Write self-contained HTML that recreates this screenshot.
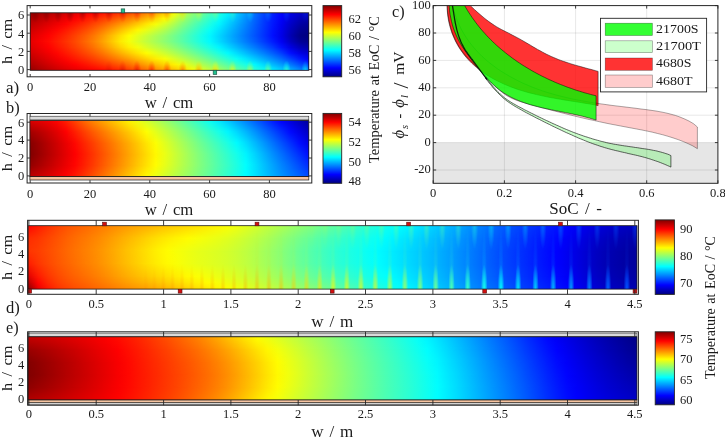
<!DOCTYPE html><html><head><meta charset="utf-8"><title>Figure</title><style>html,body{margin:0;padding:0;background:#fff}svg{display:block}</style></head><body><svg width="725" height="439" viewBox="0 0 725 439" font-family="Liberation Serif, serif" fill="#1a1a1a"><defs><linearGradient id="a0"><stop offset="0" stop-color="#940000"/><stop offset="0.03226" stop-color="#a30000"/><stop offset="0.06452" stop-color="#b30000"/><stop offset="0.09677" stop-color="#c20000"/><stop offset="0.129" stop-color="#d10000"/><stop offset="0.1613" stop-color="#e10000"/><stop offset="0.1935" stop-color="#f00000"/><stop offset="0.2258" stop-color="#ff0000"/><stop offset="0.2581" stop-color="#ff0e00"/><stop offset="0.2903" stop-color="#ff1d00"/><stop offset="0.3226" stop-color="#ff2e00"/><stop offset="0.3548" stop-color="#ff4500"/><stop offset="0.3871" stop-color="#ff6100"/><stop offset="0.4194" stop-color="#ff8000"/><stop offset="0.4516" stop-color="#ffa100"/><stop offset="0.4839" stop-color="#ffc800"/><stop offset="0.5161" stop-color="#feff01"/><stop offset="0.5484" stop-color="#c2ff3d"/><stop offset="0.5806" stop-color="#95ff6a"/><stop offset="0.6129" stop-color="#70ff8f"/><stop offset="0.6452" stop-color="#4bffb4"/><stop offset="0.6774" stop-color="#21ffde"/><stop offset="0.7097" stop-color="#00f5ff"/><stop offset="0.7419" stop-color="#00c9ff"/><stop offset="0.7742" stop-color="#009dff"/><stop offset="0.8065" stop-color="#006fff"/><stop offset="0.8387" stop-color="#0044ff"/><stop offset="0.871" stop-color="#0021ff"/><stop offset="0.9032" stop-color="#0003ff"/><stop offset="0.9355" stop-color="#0000e6"/><stop offset="0.9677" stop-color="#0000cf"/><stop offset="1" stop-color="#0000bc"/></linearGradient><linearGradient id="a1"><stop offset="0" stop-color="#aa0000"/><stop offset="0.03226" stop-color="#b90000"/><stop offset="0.06452" stop-color="#ca0000"/><stop offset="0.09677" stop-color="#da0000"/><stop offset="0.129" stop-color="#ec0000"/><stop offset="0.1613" stop-color="#fd0000"/><stop offset="0.1935" stop-color="#ff1100"/><stop offset="0.2258" stop-color="#ff2400"/><stop offset="0.2581" stop-color="#ff3700"/><stop offset="0.2903" stop-color="#ff4c00"/><stop offset="0.3226" stop-color="#ff6400"/><stop offset="0.3548" stop-color="#ff7e00"/><stop offset="0.3871" stop-color="#ff9a00"/><stop offset="0.4194" stop-color="#ffb800"/><stop offset="0.4516" stop-color="#ffd700"/><stop offset="0.4839" stop-color="#fffb00"/><stop offset="0.5161" stop-color="#d3ff2c"/><stop offset="0.5484" stop-color="#a0ff5f"/><stop offset="0.5806" stop-color="#78ff87"/><stop offset="0.6129" stop-color="#55ffaa"/><stop offset="0.6452" stop-color="#31ffce"/><stop offset="0.6774" stop-color="#0afff5"/><stop offset="0.7097" stop-color="#00e1ff"/><stop offset="0.7419" stop-color="#00b9ff"/><stop offset="0.7742" stop-color="#0090ff"/><stop offset="0.8065" stop-color="#0066ff"/><stop offset="0.8387" stop-color="#003eff"/><stop offset="0.871" stop-color="#001cff"/><stop offset="0.9032" stop-color="#0000f9"/><stop offset="0.9355" stop-color="#0000d6"/><stop offset="0.9677" stop-color="#0000b8"/><stop offset="1" stop-color="#0000a9"/></linearGradient><linearGradient id="am1g" gradientUnits="userSpaceOnUse" x1="0" y1="12.80" x2="0" y2="18.55"><stop offset="0" stop-color="#fff" stop-opacity="0"/><stop offset="1" stop-color="#fff"/></linearGradient><mask id="am1" maskUnits="userSpaceOnUse" x="30.20" y="12.80" width="278.60" height="57.50"><rect x="30.20" y="12.80" width="278.60" height="57.50" fill="url(#am1g)"/></mask><linearGradient id="a2"><stop offset="0" stop-color="#be0000"/><stop offset="0.03226" stop-color="#ce0000"/><stop offset="0.06452" stop-color="#df0000"/><stop offset="0.09677" stop-color="#f00000"/><stop offset="0.129" stop-color="#ff0400"/><stop offset="0.1613" stop-color="#ff1800"/><stop offset="0.1935" stop-color="#ff2d00"/><stop offset="0.2258" stop-color="#ff4400"/><stop offset="0.2581" stop-color="#ff5c00"/><stop offset="0.2903" stop-color="#ff7700"/><stop offset="0.3226" stop-color="#ff9400"/><stop offset="0.3548" stop-color="#ffb000"/><stop offset="0.3871" stop-color="#ffcd00"/><stop offset="0.4194" stop-color="#ffea00"/><stop offset="0.4516" stop-color="#f6ff09"/><stop offset="0.4839" stop-color="#d6ff29"/><stop offset="0.5161" stop-color="#aeff51"/><stop offset="0.5484" stop-color="#82ff7d"/><stop offset="0.5806" stop-color="#5effa1"/><stop offset="0.6129" stop-color="#3cffc3"/><stop offset="0.6452" stop-color="#1affe5"/><stop offset="0.6774" stop-color="#00f5ff"/><stop offset="0.7097" stop-color="#00d0ff"/><stop offset="0.7419" stop-color="#00aaff"/><stop offset="0.7742" stop-color="#0085ff"/><stop offset="0.8065" stop-color="#005eff"/><stop offset="0.8387" stop-color="#0039ff"/><stop offset="0.871" stop-color="#0017ff"/><stop offset="0.9032" stop-color="#0000f1"/><stop offset="0.9355" stop-color="#0000c7"/><stop offset="0.9677" stop-color="#0000a5"/><stop offset="1" stop-color="#000098"/></linearGradient><linearGradient id="am2g" gradientUnits="userSpaceOnUse" x1="0" y1="18.55" x2="0" y2="24.30"><stop offset="0" stop-color="#fff" stop-opacity="0"/><stop offset="1" stop-color="#fff"/></linearGradient><mask id="am2" maskUnits="userSpaceOnUse" x="30.20" y="18.55" width="278.60" height="51.75"><rect x="30.20" y="18.55" width="278.60" height="51.75" fill="url(#am2g)"/></mask><linearGradient id="a3"><stop offset="0" stop-color="#cf0000"/><stop offset="0.03226" stop-color="#df0000"/><stop offset="0.06452" stop-color="#f10000"/><stop offset="0.09677" stop-color="#ff0500"/><stop offset="0.129" stop-color="#ff1900"/><stop offset="0.1613" stop-color="#ff2f00"/><stop offset="0.1935" stop-color="#ff4600"/><stop offset="0.2258" stop-color="#ff5f00"/><stop offset="0.2581" stop-color="#ff7c00"/><stop offset="0.2903" stop-color="#ff9c00"/><stop offset="0.3226" stop-color="#ffbd00"/><stop offset="0.3548" stop-color="#ffdc00"/><stop offset="0.3871" stop-color="#fff900"/><stop offset="0.4194" stop-color="#e9ff16"/><stop offset="0.4516" stop-color="#cdff32"/><stop offset="0.4839" stop-color="#b0ff4f"/><stop offset="0.5161" stop-color="#8dff72"/><stop offset="0.5484" stop-color="#69ff96"/><stop offset="0.5806" stop-color="#48ffb7"/><stop offset="0.6129" stop-color="#27ffd8"/><stop offset="0.6452" stop-color="#07fff8"/><stop offset="0.6774" stop-color="#00e4ff"/><stop offset="0.7097" stop-color="#00c1ff"/><stop offset="0.7419" stop-color="#009eff"/><stop offset="0.7742" stop-color="#007bff"/><stop offset="0.8065" stop-color="#0058ff"/><stop offset="0.8387" stop-color="#0035ff"/><stop offset="0.871" stop-color="#0012ff"/><stop offset="0.9032" stop-color="#0000eb"/><stop offset="0.9355" stop-color="#0000bb"/><stop offset="0.9677" stop-color="#000095"/><stop offset="1" stop-color="#00008a"/></linearGradient><linearGradient id="am3g" gradientUnits="userSpaceOnUse" x1="0" y1="24.30" x2="0" y2="30.05"><stop offset="0" stop-color="#fff" stop-opacity="0"/><stop offset="1" stop-color="#fff"/></linearGradient><mask id="am3" maskUnits="userSpaceOnUse" x="30.20" y="24.30" width="278.60" height="46.00"><rect x="30.20" y="24.30" width="278.60" height="46.00" fill="url(#am3g)"/></mask><linearGradient id="a4"><stop offset="0" stop-color="#dd0000"/><stop offset="0.03226" stop-color="#ed0000"/><stop offset="0.06452" stop-color="#ff0000"/><stop offset="0.09677" stop-color="#ff1400"/><stop offset="0.129" stop-color="#ff2900"/><stop offset="0.1613" stop-color="#ff4100"/><stop offset="0.1935" stop-color="#ff5a00"/><stop offset="0.2258" stop-color="#ff7500"/><stop offset="0.2581" stop-color="#ff9500"/><stop offset="0.2903" stop-color="#ffba00"/><stop offset="0.3226" stop-color="#ffde00"/><stop offset="0.3548" stop-color="#fffe00"/><stop offset="0.3871" stop-color="#e3ff1c"/><stop offset="0.4194" stop-color="#c7ff38"/><stop offset="0.4516" stop-color="#acff53"/><stop offset="0.4839" stop-color="#92ff6d"/><stop offset="0.5161" stop-color="#74ff8b"/><stop offset="0.5484" stop-color="#56ffa9"/><stop offset="0.5806" stop-color="#37ffc8"/><stop offset="0.6129" stop-color="#18ffe7"/><stop offset="0.6452" stop-color="#00f7ff"/><stop offset="0.6774" stop-color="#00d7ff"/><stop offset="0.7097" stop-color="#00b6ff"/><stop offset="0.7419" stop-color="#0095ff"/><stop offset="0.7742" stop-color="#0074ff"/><stop offset="0.8065" stop-color="#0053ff"/><stop offset="0.8387" stop-color="#0032ff"/><stop offset="0.871" stop-color="#000fff"/><stop offset="0.9032" stop-color="#0000e6"/><stop offset="0.9355" stop-color="#0000b2"/><stop offset="0.9677" stop-color="#000089"/><stop offset="1" stop-color="#000080"/></linearGradient><linearGradient id="am4g" gradientUnits="userSpaceOnUse" x1="0" y1="30.05" x2="0" y2="35.80"><stop offset="0" stop-color="#fff" stop-opacity="0"/><stop offset="1" stop-color="#fff"/></linearGradient><mask id="am4" maskUnits="userSpaceOnUse" x="30.20" y="30.05" width="278.60" height="40.25"><rect x="30.20" y="30.05" width="278.60" height="40.25" fill="url(#am4g)"/></mask><linearGradient id="a5"><stop offset="0" stop-color="#e50000"/><stop offset="0.03226" stop-color="#f60000"/><stop offset="0.06452" stop-color="#ff0900"/><stop offset="0.09677" stop-color="#ff1d00"/><stop offset="0.129" stop-color="#ff3200"/><stop offset="0.1613" stop-color="#ff4900"/><stop offset="0.1935" stop-color="#ff6300"/><stop offset="0.2258" stop-color="#ff7f00"/><stop offset="0.2581" stop-color="#ffa000"/><stop offset="0.2903" stop-color="#ffc400"/><stop offset="0.3226" stop-color="#ffe900"/><stop offset="0.3548" stop-color="#f6ff09"/><stop offset="0.3871" stop-color="#daff25"/><stop offset="0.4194" stop-color="#bfff40"/><stop offset="0.4516" stop-color="#a6ff59"/><stop offset="0.4839" stop-color="#8dff72"/><stop offset="0.5161" stop-color="#72ff8d"/><stop offset="0.5484" stop-color="#56ffa9"/><stop offset="0.5806" stop-color="#38ffc7"/><stop offset="0.6129" stop-color="#1affe5"/><stop offset="0.6452" stop-color="#00fbff"/><stop offset="0.6774" stop-color="#00dcff"/><stop offset="0.7097" stop-color="#00bcff"/><stop offset="0.7419" stop-color="#009cff"/><stop offset="0.7742" stop-color="#007cff"/><stop offset="0.8065" stop-color="#005dff"/><stop offset="0.8387" stop-color="#003cff"/><stop offset="0.871" stop-color="#001bff"/><stop offset="0.9032" stop-color="#0000f2"/><stop offset="0.9355" stop-color="#0000c0"/><stop offset="0.9677" stop-color="#000098"/><stop offset="1" stop-color="#00008d"/></linearGradient><linearGradient id="am5g" gradientUnits="userSpaceOnUse" x1="0" y1="35.80" x2="0" y2="41.55"><stop offset="0" stop-color="#fff" stop-opacity="0"/><stop offset="1" stop-color="#fff"/></linearGradient><mask id="am5" maskUnits="userSpaceOnUse" x="30.20" y="35.80" width="278.60" height="34.50"><rect x="30.20" y="35.80" width="278.60" height="34.50" fill="url(#am5g)"/></mask><linearGradient id="a6"><stop offset="0" stop-color="#dd0000"/><stop offset="0.03226" stop-color="#ed0000"/><stop offset="0.06452" stop-color="#ff0000"/><stop offset="0.09677" stop-color="#ff1400"/><stop offset="0.129" stop-color="#ff2800"/><stop offset="0.1613" stop-color="#ff3e00"/><stop offset="0.1935" stop-color="#ff5600"/><stop offset="0.2258" stop-color="#ff7000"/><stop offset="0.2581" stop-color="#ff8e00"/><stop offset="0.2903" stop-color="#ffaf00"/><stop offset="0.3226" stop-color="#ffd100"/><stop offset="0.3548" stop-color="#ffef00"/><stop offset="0.3871" stop-color="#f4ff0b"/><stop offset="0.4194" stop-color="#d9ff26"/><stop offset="0.4516" stop-color="#c0ff3f"/><stop offset="0.4839" stop-color="#a8ff57"/><stop offset="0.5161" stop-color="#8dff72"/><stop offset="0.5484" stop-color="#70ff8f"/><stop offset="0.5806" stop-color="#53ffac"/><stop offset="0.6129" stop-color="#35ffca"/><stop offset="0.6452" stop-color="#17ffe8"/><stop offset="0.6774" stop-color="#00f7ff"/><stop offset="0.7097" stop-color="#00d8ff"/><stop offset="0.7419" stop-color="#00b8ff"/><stop offset="0.7742" stop-color="#0098ff"/><stop offset="0.8065" stop-color="#0079ff"/><stop offset="0.8387" stop-color="#0059ff"/><stop offset="0.871" stop-color="#0038ff"/><stop offset="0.9032" stop-color="#0012ff"/><stop offset="0.9355" stop-color="#0000e2"/><stop offset="0.9677" stop-color="#0000ba"/><stop offset="1" stop-color="#0000ab"/></linearGradient><linearGradient id="am6g" gradientUnits="userSpaceOnUse" x1="0" y1="41.55" x2="0" y2="47.30"><stop offset="0" stop-color="#fff" stop-opacity="0"/><stop offset="1" stop-color="#fff"/></linearGradient><mask id="am6" maskUnits="userSpaceOnUse" x="30.20" y="41.55" width="278.60" height="28.75"><rect x="30.20" y="41.55" width="278.60" height="28.75" fill="url(#am6g)"/></mask><linearGradient id="a7"><stop offset="0" stop-color="#cf0000"/><stop offset="0.03226" stop-color="#e00000"/><stop offset="0.06452" stop-color="#f20000"/><stop offset="0.09677" stop-color="#ff0600"/><stop offset="0.129" stop-color="#ff1900"/><stop offset="0.1613" stop-color="#ff2d00"/><stop offset="0.1935" stop-color="#ff4300"/><stop offset="0.2258" stop-color="#ff5a00"/><stop offset="0.2581" stop-color="#ff7400"/><stop offset="0.2903" stop-color="#ff9100"/><stop offset="0.3226" stop-color="#ffaf00"/><stop offset="0.3548" stop-color="#ffcb00"/><stop offset="0.3871" stop-color="#ffe600"/><stop offset="0.4194" stop-color="#feff01"/><stop offset="0.4516" stop-color="#e5ff1a"/><stop offset="0.4839" stop-color="#ccff33"/><stop offset="0.5161" stop-color="#b1ff4e"/><stop offset="0.5484" stop-color="#94ff6b"/><stop offset="0.5806" stop-color="#76ff89"/><stop offset="0.6129" stop-color="#58ffa7"/><stop offset="0.6452" stop-color="#3affc5"/><stop offset="0.6774" stop-color="#1cffe3"/><stop offset="0.7097" stop-color="#00fbff"/><stop offset="0.7419" stop-color="#00dcff"/><stop offset="0.7742" stop-color="#00bdff"/><stop offset="0.8065" stop-color="#009dff"/><stop offset="0.8387" stop-color="#007eff"/><stop offset="0.871" stop-color="#005dff"/><stop offset="0.9032" stop-color="#003aff"/><stop offset="0.9355" stop-color="#000dff"/><stop offset="0.9677" stop-color="#0000e5"/><stop offset="1" stop-color="#0000cf"/></linearGradient><linearGradient id="am7g" gradientUnits="userSpaceOnUse" x1="0" y1="47.30" x2="0" y2="53.05"><stop offset="0" stop-color="#fff" stop-opacity="0"/><stop offset="1" stop-color="#fff"/></linearGradient><mask id="am7" maskUnits="userSpaceOnUse" x="30.20" y="47.30" width="278.60" height="23.00"><rect x="30.20" y="47.30" width="278.60" height="23.00" fill="url(#am7g)"/></mask><linearGradient id="a8"><stop offset="0" stop-color="#be0000"/><stop offset="0.03226" stop-color="#d00000"/><stop offset="0.06452" stop-color="#e20000"/><stop offset="0.09677" stop-color="#f40000"/><stop offset="0.129" stop-color="#ff0700"/><stop offset="0.1613" stop-color="#ff1900"/><stop offset="0.1935" stop-color="#ff2b00"/><stop offset="0.2258" stop-color="#ff3f00"/><stop offset="0.2581" stop-color="#ff5500"/><stop offset="0.2903" stop-color="#ff6d00"/><stop offset="0.3226" stop-color="#ff8600"/><stop offset="0.3548" stop-color="#ff9f00"/><stop offset="0.3871" stop-color="#ffba00"/><stop offset="0.4194" stop-color="#ffd400"/><stop offset="0.4516" stop-color="#ffee00"/><stop offset="0.4839" stop-color="#f8ff07"/><stop offset="0.5161" stop-color="#dcff23"/><stop offset="0.5484" stop-color="#bfff40"/><stop offset="0.5806" stop-color="#a0ff5f"/><stop offset="0.6129" stop-color="#82ff7d"/><stop offset="0.6452" stop-color="#64ff9b"/><stop offset="0.6774" stop-color="#45ffba"/><stop offset="0.7097" stop-color="#26ffd9"/><stop offset="0.7419" stop-color="#07fff8"/><stop offset="0.7742" stop-color="#00e7ff"/><stop offset="0.8065" stop-color="#00c8ff"/><stop offset="0.8387" stop-color="#00a9ff"/><stop offset="0.871" stop-color="#0089ff"/><stop offset="0.9032" stop-color="#0067ff"/><stop offset="0.9355" stop-color="#003fff"/><stop offset="0.9677" stop-color="#0018ff"/><stop offset="1" stop-color="#0000fa"/></linearGradient><linearGradient id="am8g" gradientUnits="userSpaceOnUse" x1="0" y1="53.05" x2="0" y2="58.80"><stop offset="0" stop-color="#fff" stop-opacity="0"/><stop offset="1" stop-color="#fff"/></linearGradient><mask id="am8" maskUnits="userSpaceOnUse" x="30.20" y="53.05" width="278.60" height="17.25"><rect x="30.20" y="53.05" width="278.60" height="17.25" fill="url(#am8g)"/></mask><linearGradient id="a9"><stop offset="0" stop-color="#aa0000"/><stop offset="0.03226" stop-color="#bd0000"/><stop offset="0.06452" stop-color="#d00000"/><stop offset="0.09677" stop-color="#e10000"/><stop offset="0.129" stop-color="#f10000"/><stop offset="0.1613" stop-color="#ff0100"/><stop offset="0.1935" stop-color="#ff1000"/><stop offset="0.2258" stop-color="#ff2000"/><stop offset="0.2581" stop-color="#ff3100"/><stop offset="0.2903" stop-color="#ff4300"/><stop offset="0.3226" stop-color="#ff5700"/><stop offset="0.3548" stop-color="#ff6e00"/><stop offset="0.3871" stop-color="#ff8900"/><stop offset="0.4194" stop-color="#ffa300"/><stop offset="0.4516" stop-color="#ffbc00"/><stop offset="0.4839" stop-color="#ffd600"/><stop offset="0.5161" stop-color="#fff100"/><stop offset="0.5484" stop-color="#eeff11"/><stop offset="0.5806" stop-color="#d0ff2f"/><stop offset="0.6129" stop-color="#b1ff4e"/><stop offset="0.6452" stop-color="#93ff6c"/><stop offset="0.6774" stop-color="#74ff8b"/><stop offset="0.7097" stop-color="#55ffaa"/><stop offset="0.7419" stop-color="#36ffc9"/><stop offset="0.7742" stop-color="#17ffe8"/><stop offset="0.8065" stop-color="#00f8ff"/><stop offset="0.8387" stop-color="#00d9ff"/><stop offset="0.871" stop-color="#00b9ff"/><stop offset="0.9032" stop-color="#009aff"/><stop offset="0.9355" stop-color="#0076ff"/><stop offset="0.9677" stop-color="#004fff"/><stop offset="1" stop-color="#002bff"/></linearGradient><linearGradient id="am9g" gradientUnits="userSpaceOnUse" x1="0" y1="58.80" x2="0" y2="64.55"><stop offset="0" stop-color="#fff" stop-opacity="0"/><stop offset="1" stop-color="#fff"/></linearGradient><mask id="am9" maskUnits="userSpaceOnUse" x="30.20" y="58.80" width="278.60" height="11.50"><rect x="30.20" y="58.80" width="278.60" height="11.50" fill="url(#am9g)"/></mask><linearGradient id="a10"><stop offset="0" stop-color="#940000"/><stop offset="0.03226" stop-color="#a90000"/><stop offset="0.06452" stop-color="#bb0000"/><stop offset="0.09677" stop-color="#cc0000"/><stop offset="0.129" stop-color="#da0000"/><stop offset="0.1613" stop-color="#e70000"/><stop offset="0.1935" stop-color="#f20000"/><stop offset="0.2258" stop-color="#fe0000"/><stop offset="0.2581" stop-color="#ff0a00"/><stop offset="0.2903" stop-color="#ff1600"/><stop offset="0.3226" stop-color="#ff2400"/><stop offset="0.3548" stop-color="#ff3900"/><stop offset="0.3871" stop-color="#ff5200"/><stop offset="0.4194" stop-color="#ff6d00"/><stop offset="0.4516" stop-color="#ff8700"/><stop offset="0.4839" stop-color="#ffa000"/><stop offset="0.5161" stop-color="#ffbc00"/><stop offset="0.5484" stop-color="#ffdb00"/><stop offset="0.5806" stop-color="#fffb00"/><stop offset="0.6129" stop-color="#e4ff1b"/><stop offset="0.6452" stop-color="#c6ff39"/><stop offset="0.6774" stop-color="#a7ff58"/><stop offset="0.7097" stop-color="#88ff77"/><stop offset="0.7419" stop-color="#6aff95"/><stop offset="0.7742" stop-color="#4bffb4"/><stop offset="0.8065" stop-color="#2cffd3"/><stop offset="0.8387" stop-color="#0efff1"/><stop offset="0.871" stop-color="#00eeff"/><stop offset="0.9032" stop-color="#00d1ff"/><stop offset="0.9355" stop-color="#00b2ff"/><stop offset="0.9677" stop-color="#008cff"/><stop offset="1" stop-color="#005eff"/></linearGradient><linearGradient id="am10g" gradientUnits="userSpaceOnUse" x1="0" y1="64.55" x2="0" y2="70.30"><stop offset="0" stop-color="#fff" stop-opacity="0"/><stop offset="1" stop-color="#fff"/></linearGradient><mask id="am10" maskUnits="userSpaceOnUse" x="30.20" y="64.55" width="278.60" height="5.75"><rect x="30.20" y="64.55" width="278.60" height="5.75" fill="url(#am10g)"/></mask><radialGradient id="sp"><stop offset="0" stop-color="#fff"/><stop offset="0.45" stop-color="#fff" stop-opacity="0.6"/><stop offset="1" stop-color="#fff" stop-opacity="0"/></radialGradient><mask id="mska" maskUnits="userSpaceOnUse" x="30.2" y="12.8" width="278.6" height="57.5"><ellipse cx="4.8" cy="12.8" rx="4.2" ry="10" fill="url(#sp)" opacity="0.57"/><ellipse cx="14.5" cy="12.8" rx="4.2" ry="10" fill="url(#sp)" opacity="0.56"/><ellipse cx="24.7" cy="12.8" rx="4.2" ry="10" fill="url(#sp)" opacity="0.55"/><ellipse cx="35.4" cy="12.8" rx="4.2" ry="10" fill="url(#sp)" opacity="0.55"/><ellipse cx="46.5" cy="12.8" rx="4.2" ry="10" fill="url(#sp)" opacity="0.54"/><ellipse cx="58.1" cy="12.8" rx="4.2" ry="10" fill="url(#sp)" opacity="0.53"/><ellipse cx="70.1" cy="12.8" rx="4.2" ry="10" fill="url(#sp)" opacity="0.51"/><ellipse cx="82.6" cy="12.8" rx="4.2" ry="10" fill="url(#sp)" opacity="0.50"/><ellipse cx="95.6" cy="12.8" rx="4.2" ry="10" fill="url(#sp)" opacity="0.49"/><ellipse cx="109.0" cy="12.8" rx="4.2" ry="10" fill="url(#sp)" opacity="0.48"/><ellipse cx="122.8" cy="12.8" rx="4.2" ry="10" fill="url(#sp)" opacity="0.47"/><ellipse cx="137.2" cy="12.8" rx="4.2" ry="10" fill="url(#sp)" opacity="0.45"/><ellipse cx="152.0" cy="12.8" rx="4.2" ry="10" fill="url(#sp)" opacity="0.44"/><ellipse cx="167.2" cy="12.8" rx="4.2" ry="10" fill="url(#sp)" opacity="0.43"/><ellipse cx="182.9" cy="12.8" rx="4.2" ry="10" fill="url(#sp)" opacity="0.41"/><ellipse cx="199.1" cy="12.8" rx="4.2" ry="10" fill="url(#sp)" opacity="0.40"/><ellipse cx="215.7" cy="12.8" rx="4.2" ry="10" fill="url(#sp)" opacity="0.38"/><ellipse cx="232.8" cy="12.8" rx="4.2" ry="10" fill="url(#sp)" opacity="0.37"/><ellipse cx="250.3" cy="12.8" rx="4.2" ry="10" fill="url(#sp)" opacity="0.35"/><ellipse cx="268.3" cy="12.8" rx="4.2" ry="10" fill="url(#sp)" opacity="0.34"/><ellipse cx="286.7" cy="12.8" rx="4.2" ry="10" fill="url(#sp)" opacity="0.32"/><ellipse cx="305.6" cy="12.8" rx="4.2" ry="10" fill="url(#sp)" opacity="0.30"/><ellipse cx="325.0" cy="12.8" rx="4.2" ry="10" fill="url(#sp)" opacity="0.29"/><ellipse cx="4.7" cy="70.3" rx="4.2" ry="10" fill="url(#sp)" opacity="0.00"/><ellipse cx="14.4" cy="70.3" rx="4.2" ry="10" fill="url(#sp)" opacity="0.00"/><ellipse cx="24.6" cy="70.3" rx="4.2" ry="10" fill="url(#sp)" opacity="0.00"/><ellipse cx="35.3" cy="70.3" rx="4.2" ry="10" fill="url(#sp)" opacity="0.00"/><ellipse cx="46.4" cy="70.3" rx="4.2" ry="10" fill="url(#sp)" opacity="0.00"/><ellipse cx="58.0" cy="70.3" rx="4.2" ry="10" fill="url(#sp)" opacity="0.00"/><ellipse cx="70.0" cy="70.3" rx="4.2" ry="10" fill="url(#sp)" opacity="0.00"/><ellipse cx="82.5" cy="70.3" rx="4.2" ry="10" fill="url(#sp)" opacity="0.00"/><ellipse cx="95.4" cy="70.3" rx="4.2" ry="10" fill="url(#sp)" opacity="0.00"/><ellipse cx="108.9" cy="70.3" rx="4.2" ry="10" fill="url(#sp)" opacity="0.18"/><ellipse cx="122.7" cy="70.3" rx="4.2" ry="10" fill="url(#sp)" opacity="0.38"/><ellipse cx="137.0" cy="70.3" rx="4.2" ry="10" fill="url(#sp)" opacity="0.60"/><ellipse cx="151.8" cy="70.3" rx="4.2" ry="10" fill="url(#sp)" opacity="0.67"/><ellipse cx="167.1" cy="70.3" rx="4.2" ry="10" fill="url(#sp)" opacity="0.70"/><ellipse cx="182.8" cy="70.3" rx="4.2" ry="10" fill="url(#sp)" opacity="0.72"/><ellipse cx="198.9" cy="70.3" rx="4.2" ry="10" fill="url(#sp)" opacity="0.74"/><ellipse cx="215.5" cy="70.3" rx="4.2" ry="10" fill="url(#sp)" opacity="0.77"/><ellipse cx="232.6" cy="70.3" rx="4.2" ry="10" fill="url(#sp)" opacity="0.79"/><ellipse cx="250.1" cy="70.3" rx="4.2" ry="10" fill="url(#sp)" opacity="0.82"/><ellipse cx="268.1" cy="70.3" rx="4.2" ry="10" fill="url(#sp)" opacity="0.84"/><ellipse cx="286.6" cy="70.3" rx="4.2" ry="10" fill="url(#sp)" opacity="0.87"/><ellipse cx="305.5" cy="70.3" rx="4.2" ry="10" fill="url(#sp)" opacity="0.90"/><ellipse cx="324.8" cy="70.3" rx="4.2" ry="10" fill="url(#sp)" opacity="0.92"/></mask><linearGradient id="A0"><stop offset="0" stop-color="#800000"/><stop offset="0.03226" stop-color="#800000"/><stop offset="0.06452" stop-color="#800000"/><stop offset="0.09677" stop-color="#800000"/><stop offset="0.129" stop-color="#800000"/><stop offset="0.1613" stop-color="#800000"/><stop offset="0.1935" stop-color="#800000"/><stop offset="0.2258" stop-color="#8f0000"/><stop offset="0.2581" stop-color="#9d0000"/><stop offset="0.2903" stop-color="#ac0000"/><stop offset="0.3226" stop-color="#bd0000"/><stop offset="0.3548" stop-color="#d40000"/><stop offset="0.3871" stop-color="#f00000"/><stop offset="0.4194" stop-color="#ff1000"/><stop offset="0.4516" stop-color="#ff3100"/><stop offset="0.4839" stop-color="#ff5800"/><stop offset="0.5161" stop-color="#ff9000"/><stop offset="0.5484" stop-color="#ffcc00"/><stop offset="0.5806" stop-color="#fff900"/><stop offset="0.6129" stop-color="#e1ff1e"/><stop offset="0.6452" stop-color="#bbff44"/><stop offset="0.6774" stop-color="#91ff6e"/><stop offset="0.7097" stop-color="#66ff99"/><stop offset="0.7419" stop-color="#3affc5"/><stop offset="0.7742" stop-color="#0efff1"/><stop offset="0.8065" stop-color="#00dfff"/><stop offset="0.8387" stop-color="#00b4ff"/><stop offset="0.871" stop-color="#0092ff"/><stop offset="0.9032" stop-color="#0073ff"/><stop offset="0.9355" stop-color="#0057ff"/><stop offset="0.9677" stop-color="#0040ff"/><stop offset="1" stop-color="#002dff"/></linearGradient><linearGradient id="A1"><stop offset="0" stop-color="#800000"/><stop offset="0.03226" stop-color="#800000"/><stop offset="0.06452" stop-color="#800000"/><stop offset="0.09677" stop-color="#800000"/><stop offset="0.129" stop-color="#800000"/><stop offset="0.1613" stop-color="#8d0000"/><stop offset="0.1935" stop-color="#9f0000"/><stop offset="0.2258" stop-color="#b20000"/><stop offset="0.2581" stop-color="#c60000"/><stop offset="0.2903" stop-color="#db0000"/><stop offset="0.3226" stop-color="#f30000"/><stop offset="0.3548" stop-color="#ff0d00"/><stop offset="0.3871" stop-color="#ff2a00"/><stop offset="0.4194" stop-color="#ff4800"/><stop offset="0.4516" stop-color="#ff6700"/><stop offset="0.4839" stop-color="#ff8a00"/><stop offset="0.5161" stop-color="#ffba00"/><stop offset="0.5484" stop-color="#ffee00"/><stop offset="0.5806" stop-color="#e8ff17"/><stop offset="0.6129" stop-color="#c5ff3a"/><stop offset="0.6452" stop-color="#a1ff5e"/><stop offset="0.6774" stop-color="#7bff84"/><stop offset="0.7097" stop-color="#52ffad"/><stop offset="0.7419" stop-color="#2affd5"/><stop offset="0.7742" stop-color="#01fffe"/><stop offset="0.8065" stop-color="#00d6ff"/><stop offset="0.8387" stop-color="#00afff"/><stop offset="0.871" stop-color="#008cff"/><stop offset="0.9032" stop-color="#006aff"/><stop offset="0.9355" stop-color="#0047ff"/><stop offset="0.9677" stop-color="#002aff"/><stop offset="1" stop-color="#001aff"/></linearGradient><linearGradient id="Am1g" gradientUnits="userSpaceOnUse" x1="0" y1="12.80" x2="0" y2="18.55"><stop offset="0" stop-color="#fff" stop-opacity="0"/><stop offset="1" stop-color="#fff"/></linearGradient><mask id="Am1" maskUnits="userSpaceOnUse" x="30.20" y="12.80" width="278.60" height="57.50"><rect x="30.20" y="12.80" width="278.60" height="57.50" fill="url(#Am1g)"/></mask><linearGradient id="A2"><stop offset="0" stop-color="#800000"/><stop offset="0.03226" stop-color="#800000"/><stop offset="0.06452" stop-color="#800000"/><stop offset="0.09677" stop-color="#800000"/><stop offset="0.129" stop-color="#930000"/><stop offset="0.1613" stop-color="#a70000"/><stop offset="0.1935" stop-color="#bc0000"/><stop offset="0.2258" stop-color="#d20000"/><stop offset="0.2581" stop-color="#eb0000"/><stop offset="0.2903" stop-color="#ff0700"/><stop offset="0.3226" stop-color="#ff2400"/><stop offset="0.3548" stop-color="#ff4000"/><stop offset="0.3871" stop-color="#ff5d00"/><stop offset="0.4194" stop-color="#ff7a00"/><stop offset="0.4516" stop-color="#ff9800"/><stop offset="0.4839" stop-color="#ffb800"/><stop offset="0.5161" stop-color="#ffe000"/><stop offset="0.5484" stop-color="#f3ff0c"/><stop offset="0.5806" stop-color="#ceff31"/><stop offset="0.6129" stop-color="#adff52"/><stop offset="0.6452" stop-color="#8bff74"/><stop offset="0.6774" stop-color="#66ff99"/><stop offset="0.7097" stop-color="#41ffbe"/><stop offset="0.7419" stop-color="#1bffe4"/><stop offset="0.7742" stop-color="#00f5ff"/><stop offset="0.8065" stop-color="#00cfff"/><stop offset="0.8387" stop-color="#00a9ff"/><stop offset="0.871" stop-color="#0087ff"/><stop offset="0.9032" stop-color="#0062ff"/><stop offset="0.9355" stop-color="#0038ff"/><stop offset="0.9677" stop-color="#0016ff"/><stop offset="1" stop-color="#0009ff"/></linearGradient><linearGradient id="Am2g" gradientUnits="userSpaceOnUse" x1="0" y1="18.55" x2="0" y2="24.30"><stop offset="0" stop-color="#fff" stop-opacity="0"/><stop offset="1" stop-color="#fff"/></linearGradient><mask id="Am2" maskUnits="userSpaceOnUse" x="30.20" y="18.55" width="278.60" height="51.75"><rect x="30.20" y="18.55" width="278.60" height="51.75" fill="url(#Am2g)"/></mask><linearGradient id="A3"><stop offset="0" stop-color="#800000"/><stop offset="0.03226" stop-color="#800000"/><stop offset="0.06452" stop-color="#800000"/><stop offset="0.09677" stop-color="#840000"/><stop offset="0.129" stop-color="#960000"/><stop offset="0.1613" stop-color="#a80000"/><stop offset="0.1935" stop-color="#ba0000"/><stop offset="0.2258" stop-color="#ce0000"/><stop offset="0.2581" stop-color="#e30000"/><stop offset="0.2903" stop-color="#fb0000"/><stop offset="0.3226" stop-color="#ff1500"/><stop offset="0.3548" stop-color="#ff2f00"/><stop offset="0.3871" stop-color="#ff4a00"/><stop offset="0.4194" stop-color="#ff6400"/><stop offset="0.4516" stop-color="#ff7d00"/><stop offset="0.4839" stop-color="#ff9600"/><stop offset="0.5161" stop-color="#ffb200"/><stop offset="0.5484" stop-color="#ffcf00"/><stop offset="0.5806" stop-color="#ffed00"/><stop offset="0.6129" stop-color="#f2ff0d"/><stop offset="0.6452" stop-color="#d4ff2b"/><stop offset="0.6774" stop-color="#b5ff4a"/><stop offset="0.7097" stop-color="#96ff69"/><stop offset="0.7419" stop-color="#77ff88"/><stop offset="0.7742" stop-color="#58ffa7"/><stop offset="0.8065" stop-color="#39ffc6"/><stop offset="0.8387" stop-color="#1affe5"/><stop offset="0.871" stop-color="#00f9ff"/><stop offset="0.9032" stop-color="#00d7ff"/><stop offset="0.9355" stop-color="#00afff"/><stop offset="0.9677" stop-color="#0088ff"/><stop offset="1" stop-color="#006bff"/></linearGradient><linearGradient id="Am3g" gradientUnits="userSpaceOnUse" x1="0" y1="24.30" x2="0" y2="58.80"><stop offset="0" stop-color="#fff" stop-opacity="0"/><stop offset="1" stop-color="#fff"/></linearGradient><mask id="Am3" maskUnits="userSpaceOnUse" x="30.20" y="24.30" width="278.60" height="46.00"><rect x="30.20" y="24.30" width="278.60" height="46.00" fill="url(#Am3g)"/></mask><linearGradient id="A4"><stop offset="0" stop-color="#800000"/><stop offset="0.03226" stop-color="#800000"/><stop offset="0.06452" stop-color="#800000"/><stop offset="0.09677" stop-color="#800000"/><stop offset="0.129" stop-color="#810000"/><stop offset="0.1613" stop-color="#900000"/><stop offset="0.1935" stop-color="#9f0000"/><stop offset="0.2258" stop-color="#af0000"/><stop offset="0.2581" stop-color="#c00000"/><stop offset="0.2903" stop-color="#d20000"/><stop offset="0.3226" stop-color="#e60000"/><stop offset="0.3548" stop-color="#fd0000"/><stop offset="0.3871" stop-color="#ff1800"/><stop offset="0.4194" stop-color="#ff3300"/><stop offset="0.4516" stop-color="#ff4c00"/><stop offset="0.4839" stop-color="#ff6500"/><stop offset="0.5161" stop-color="#ff8100"/><stop offset="0.5484" stop-color="#ff9f00"/><stop offset="0.5806" stop-color="#ffbe00"/><stop offset="0.6129" stop-color="#ffdd00"/><stop offset="0.6452" stop-color="#fffb00"/><stop offset="0.6774" stop-color="#e4ff1b"/><stop offset="0.7097" stop-color="#c5ff3a"/><stop offset="0.7419" stop-color="#a6ff59"/><stop offset="0.7742" stop-color="#88ff77"/><stop offset="0.8065" stop-color="#69ff96"/><stop offset="0.8387" stop-color="#4affb5"/><stop offset="0.871" stop-color="#2bffd4"/><stop offset="0.9032" stop-color="#0bfff4"/><stop offset="0.9355" stop-color="#00e6ff"/><stop offset="0.9677" stop-color="#00bfff"/><stop offset="1" stop-color="#009bff"/></linearGradient><linearGradient id="Am4g" gradientUnits="userSpaceOnUse" x1="0" y1="58.80" x2="0" y2="64.55"><stop offset="0" stop-color="#fff" stop-opacity="0"/><stop offset="1" stop-color="#fff"/></linearGradient><mask id="Am4" maskUnits="userSpaceOnUse" x="30.20" y="58.80" width="278.60" height="11.50"><rect x="30.20" y="58.80" width="278.60" height="11.50" fill="url(#Am4g)"/></mask><linearGradient id="A5"><stop offset="0" stop-color="#800000"/><stop offset="0.03226" stop-color="#800000"/><stop offset="0.06452" stop-color="#800000"/><stop offset="0.09677" stop-color="#800000"/><stop offset="0.129" stop-color="#800000"/><stop offset="0.1613" stop-color="#800000"/><stop offset="0.1935" stop-color="#820000"/><stop offset="0.2258" stop-color="#8e0000"/><stop offset="0.2581" stop-color="#990000"/><stop offset="0.2903" stop-color="#a40000"/><stop offset="0.3226" stop-color="#b30000"/><stop offset="0.3548" stop-color="#c70000"/><stop offset="0.3871" stop-color="#e10000"/><stop offset="0.4194" stop-color="#fc0000"/><stop offset="0.4516" stop-color="#ff1600"/><stop offset="0.4839" stop-color="#ff3000"/><stop offset="0.5161" stop-color="#ff4c00"/><stop offset="0.5484" stop-color="#ff6b00"/><stop offset="0.5806" stop-color="#ff8b00"/><stop offset="0.6129" stop-color="#ffa900"/><stop offset="0.6452" stop-color="#ffc800"/><stop offset="0.6774" stop-color="#ffe700"/><stop offset="0.7097" stop-color="#f9ff06"/><stop offset="0.7419" stop-color="#daff25"/><stop offset="0.7742" stop-color="#bbff44"/><stop offset="0.8065" stop-color="#9dff62"/><stop offset="0.8387" stop-color="#7eff81"/><stop offset="0.871" stop-color="#60ff9f"/><stop offset="0.9032" stop-color="#43ffbc"/><stop offset="0.9355" stop-color="#23ffdc"/><stop offset="0.9677" stop-color="#00fcff"/><stop offset="1" stop-color="#00ceff"/></linearGradient><linearGradient id="Am5g" gradientUnits="userSpaceOnUse" x1="0" y1="64.55" x2="0" y2="70.30"><stop offset="0" stop-color="#fff" stop-opacity="0"/><stop offset="1" stop-color="#fff"/></linearGradient><mask id="Am5" maskUnits="userSpaceOnUse" x="30.20" y="64.55" width="278.60" height="5.75"><rect x="30.20" y="64.55" width="278.60" height="5.75" fill="url(#Am5g)"/></mask><linearGradient id="cba" x1="0" y1="0" x2="0" y2="1"><stop offset="0" stop-color="#800000"/><stop offset="0.0625" stop-color="#bf0000"/><stop offset="0.125" stop-color="#ff0000"/><stop offset="0.1875" stop-color="#ff4000"/><stop offset="0.25" stop-color="#ff8000"/><stop offset="0.3125" stop-color="#ffbf00"/><stop offset="0.375" stop-color="#ffff00"/><stop offset="0.4375" stop-color="#bfff40"/><stop offset="0.5" stop-color="#80ff80"/><stop offset="0.5625" stop-color="#40ffbf"/><stop offset="0.625" stop-color="#00ffff"/><stop offset="0.6875" stop-color="#00bfff"/><stop offset="0.75" stop-color="#0080ff"/><stop offset="0.8125" stop-color="#0040ff"/><stop offset="0.875" stop-color="#0000ff"/><stop offset="0.9375" stop-color="#0000bf"/><stop offset="1" stop-color="#000080"/></linearGradient><linearGradient id="b0"><stop offset="0" stop-color="#db0000"/><stop offset="0.03226" stop-color="#e40000"/><stop offset="0.06452" stop-color="#f10000"/><stop offset="0.09677" stop-color="#ff0400"/><stop offset="0.129" stop-color="#ff1f00"/><stop offset="0.1613" stop-color="#ff4200"/><stop offset="0.1935" stop-color="#ff6600"/><stop offset="0.2258" stop-color="#ff8600"/><stop offset="0.2581" stop-color="#ffa200"/><stop offset="0.2903" stop-color="#ffbd00"/><stop offset="0.3226" stop-color="#ffd800"/><stop offset="0.3548" stop-color="#fff300"/><stop offset="0.3871" stop-color="#efff10"/><stop offset="0.4194" stop-color="#d4ff2b"/><stop offset="0.4516" stop-color="#b8ff47"/><stop offset="0.4839" stop-color="#9cff63"/><stop offset="0.5161" stop-color="#7fff80"/><stop offset="0.5484" stop-color="#62ff9d"/><stop offset="0.5806" stop-color="#45ffba"/><stop offset="0.6129" stop-color="#28ffd7"/><stop offset="0.6452" stop-color="#0afff5"/><stop offset="0.6774" stop-color="#00e9ff"/><stop offset="0.7097" stop-color="#00c8ff"/><stop offset="0.7419" stop-color="#00a6ff"/><stop offset="0.7742" stop-color="#0084ff"/><stop offset="0.8065" stop-color="#0062ff"/><stop offset="0.8387" stop-color="#0040ff"/><stop offset="0.871" stop-color="#001dff"/><stop offset="0.9032" stop-color="#0000fb"/><stop offset="0.9355" stop-color="#0000db"/><stop offset="0.9677" stop-color="#0000bb"/><stop offset="1" stop-color="#00009c"/></linearGradient><linearGradient id="b1"><stop offset="0" stop-color="#a40000"/><stop offset="0.03226" stop-color="#b60000"/><stop offset="0.06452" stop-color="#cb0000"/><stop offset="0.09677" stop-color="#e20000"/><stop offset="0.129" stop-color="#fe0000"/><stop offset="0.1613" stop-color="#ff1e00"/><stop offset="0.1935" stop-color="#ff3d00"/><stop offset="0.2258" stop-color="#ff5b00"/><stop offset="0.2581" stop-color="#ff7600"/><stop offset="0.2903" stop-color="#ff9200"/><stop offset="0.3226" stop-color="#ffad00"/><stop offset="0.3548" stop-color="#ffc800"/><stop offset="0.3871" stop-color="#ffe400"/><stop offset="0.4194" stop-color="#feff01"/><stop offset="0.4516" stop-color="#e2ff1d"/><stop offset="0.4839" stop-color="#c5ff3a"/><stop offset="0.5161" stop-color="#a8ff57"/><stop offset="0.5484" stop-color="#8bff74"/><stop offset="0.5806" stop-color="#6eff91"/><stop offset="0.6129" stop-color="#51ffae"/><stop offset="0.6452" stop-color="#34ffcb"/><stop offset="0.6774" stop-color="#17ffe8"/><stop offset="0.7097" stop-color="#00f7ff"/><stop offset="0.7419" stop-color="#00d8ff"/><stop offset="0.7742" stop-color="#00b7ff"/><stop offset="0.8065" stop-color="#0094ff"/><stop offset="0.8387" stop-color="#0070ff"/><stop offset="0.871" stop-color="#004dff"/><stop offset="0.9032" stop-color="#002aff"/><stop offset="0.9355" stop-color="#0008ff"/><stop offset="0.9677" stop-color="#0000e5"/><stop offset="1" stop-color="#0000c3"/></linearGradient><linearGradient id="bm1g" gradientUnits="userSpaceOnUse" x1="0" y1="120.60" x2="0" y2="131.76"><stop offset="0" stop-color="#fff" stop-opacity="0"/><stop offset="1" stop-color="#fff"/></linearGradient><mask id="bm1" maskUnits="userSpaceOnUse" x="29.90" y="120.60" width="278.90" height="55.80"><rect x="29.90" y="120.60" width="278.90" height="55.80" fill="url(#bm1g)"/></mask><linearGradient id="b2"><stop offset="0" stop-color="#860000"/><stop offset="0.03226" stop-color="#9d0000"/><stop offset="0.06452" stop-color="#b60000"/><stop offset="0.09677" stop-color="#cf0000"/><stop offset="0.129" stop-color="#ea0000"/><stop offset="0.1613" stop-color="#ff0700"/><stop offset="0.1935" stop-color="#ff2400"/><stop offset="0.2258" stop-color="#ff3f00"/><stop offset="0.2581" stop-color="#ff5b00"/><stop offset="0.2903" stop-color="#ff7600"/><stop offset="0.3226" stop-color="#ff9200"/><stop offset="0.3548" stop-color="#ffad00"/><stop offset="0.3871" stop-color="#ffc900"/><stop offset="0.4194" stop-color="#ffe600"/><stop offset="0.4516" stop-color="#fcff03"/><stop offset="0.4839" stop-color="#e0ff1f"/><stop offset="0.5161" stop-color="#c3ff3c"/><stop offset="0.5484" stop-color="#a6ff59"/><stop offset="0.5806" stop-color="#8aff75"/><stop offset="0.6129" stop-color="#6dff92"/><stop offset="0.6452" stop-color="#52ffad"/><stop offset="0.6774" stop-color="#37ffc8"/><stop offset="0.7097" stop-color="#1bffe4"/><stop offset="0.7419" stop-color="#00fcff"/><stop offset="0.7742" stop-color="#00ddff"/><stop offset="0.8065" stop-color="#00baff"/><stop offset="0.8387" stop-color="#0097ff"/><stop offset="0.871" stop-color="#0073ff"/><stop offset="0.9032" stop-color="#0050ff"/><stop offset="0.9355" stop-color="#002eff"/><stop offset="0.9677" stop-color="#000bff"/><stop offset="1" stop-color="#0000e8"/></linearGradient><linearGradient id="bm2g" gradientUnits="userSpaceOnUse" x1="0" y1="131.76" x2="0" y2="142.92"><stop offset="0" stop-color="#fff" stop-opacity="0"/><stop offset="1" stop-color="#fff"/></linearGradient><mask id="bm2" maskUnits="userSpaceOnUse" x="29.90" y="131.76" width="278.90" height="44.64"><rect x="29.90" y="131.76" width="278.90" height="44.64" fill="url(#bm2g)"/></mask><linearGradient id="b3"><stop offset="0" stop-color="#800000"/><stop offset="0.03226" stop-color="#980000"/><stop offset="0.06452" stop-color="#b10000"/><stop offset="0.09677" stop-color="#ca0000"/><stop offset="0.129" stop-color="#e40000"/><stop offset="0.1613" stop-color="#fe0000"/><stop offset="0.1935" stop-color="#ff1900"/><stop offset="0.2258" stop-color="#ff3400"/><stop offset="0.2581" stop-color="#ff5000"/><stop offset="0.2903" stop-color="#ff6c00"/><stop offset="0.3226" stop-color="#ff8800"/><stop offset="0.3548" stop-color="#ffa400"/><stop offset="0.3871" stop-color="#ffc000"/><stop offset="0.4194" stop-color="#ffdc00"/><stop offset="0.4516" stop-color="#fff800"/><stop offset="0.4839" stop-color="#ebff14"/><stop offset="0.5161" stop-color="#cfff30"/><stop offset="0.5484" stop-color="#b4ff4b"/><stop offset="0.5806" stop-color="#98ff67"/><stop offset="0.6129" stop-color="#7dff82"/><stop offset="0.6452" stop-color="#63ff9c"/><stop offset="0.6774" stop-color="#49ffb6"/><stop offset="0.7097" stop-color="#2fffd0"/><stop offset="0.7419" stop-color="#14ffeb"/><stop offset="0.7742" stop-color="#00f5ff"/><stop offset="0.8065" stop-color="#00d4ff"/><stop offset="0.8387" stop-color="#00b2ff"/><stop offset="0.871" stop-color="#008fff"/><stop offset="0.9032" stop-color="#006eff"/><stop offset="0.9355" stop-color="#004dff"/><stop offset="0.9677" stop-color="#002cff"/><stop offset="1" stop-color="#000cff"/></linearGradient><linearGradient id="bm3g" gradientUnits="userSpaceOnUse" x1="0" y1="142.92" x2="0" y2="154.08"><stop offset="0" stop-color="#fff" stop-opacity="0"/><stop offset="1" stop-color="#fff"/></linearGradient><mask id="bm3" maskUnits="userSpaceOnUse" x="29.90" y="142.92" width="278.90" height="33.48"><rect x="29.90" y="142.92" width="278.90" height="33.48" fill="url(#bm3g)"/></mask><linearGradient id="b4"><stop offset="0" stop-color="#920000"/><stop offset="0.03226" stop-color="#a70000"/><stop offset="0.06452" stop-color="#bd0000"/><stop offset="0.09677" stop-color="#d40000"/><stop offset="0.129" stop-color="#eb0000"/><stop offset="0.1613" stop-color="#ff0400"/><stop offset="0.1935" stop-color="#ff1e00"/><stop offset="0.2258" stop-color="#ff3900"/><stop offset="0.2581" stop-color="#ff5600"/><stop offset="0.2903" stop-color="#ff7200"/><stop offset="0.3226" stop-color="#ff8e00"/><stop offset="0.3548" stop-color="#ffaa00"/><stop offset="0.3871" stop-color="#ffc700"/><stop offset="0.4194" stop-color="#ffe200"/><stop offset="0.4516" stop-color="#fffd00"/><stop offset="0.4839" stop-color="#e7ff18"/><stop offset="0.5161" stop-color="#cdff32"/><stop offset="0.5484" stop-color="#b3ff4c"/><stop offset="0.5806" stop-color="#9aff65"/><stop offset="0.6129" stop-color="#80ff7f"/><stop offset="0.6452" stop-color="#68ff97"/><stop offset="0.6774" stop-color="#4fffb0"/><stop offset="0.7097" stop-color="#37ffc8"/><stop offset="0.7419" stop-color="#1dffe2"/><stop offset="0.7742" stop-color="#01fffe"/><stop offset="0.8065" stop-color="#00e2ff"/><stop offset="0.8387" stop-color="#00c2ff"/><stop offset="0.871" stop-color="#00a3ff"/><stop offset="0.9032" stop-color="#0084ff"/><stop offset="0.9355" stop-color="#0067ff"/><stop offset="0.9677" stop-color="#0049ff"/><stop offset="1" stop-color="#002cff"/></linearGradient><linearGradient id="bm4g" gradientUnits="userSpaceOnUse" x1="0" y1="154.08" x2="0" y2="165.24"><stop offset="0" stop-color="#fff" stop-opacity="0"/><stop offset="1" stop-color="#fff"/></linearGradient><mask id="bm4" maskUnits="userSpaceOnUse" x="29.90" y="154.08" width="278.90" height="22.32"><rect x="29.90" y="154.08" width="278.90" height="22.32" fill="url(#bm4g)"/></mask><linearGradient id="b5"><stop offset="0" stop-color="#bc0000"/><stop offset="0.03226" stop-color="#c90000"/><stop offset="0.06452" stop-color="#d90000"/><stop offset="0.09677" stop-color="#eb0000"/><stop offset="0.129" stop-color="#ff0000"/><stop offset="0.1613" stop-color="#ff1700"/><stop offset="0.1935" stop-color="#ff3200"/><stop offset="0.2258" stop-color="#ff4f00"/><stop offset="0.2581" stop-color="#ff6c00"/><stop offset="0.2903" stop-color="#ff8900"/><stop offset="0.3226" stop-color="#ffa500"/><stop offset="0.3548" stop-color="#ffc200"/><stop offset="0.3871" stop-color="#ffde00"/><stop offset="0.4194" stop-color="#fff900"/><stop offset="0.4516" stop-color="#ecff13"/><stop offset="0.4839" stop-color="#d4ff2b"/><stop offset="0.5161" stop-color="#bdff42"/><stop offset="0.5484" stop-color="#a6ff59"/><stop offset="0.5806" stop-color="#8fff70"/><stop offset="0.6129" stop-color="#77ff88"/><stop offset="0.6452" stop-color="#60ff9f"/><stop offset="0.6774" stop-color="#48ffb7"/><stop offset="0.7097" stop-color="#30ffcf"/><stop offset="0.7419" stop-color="#18ffe7"/><stop offset="0.7742" stop-color="#00feff"/><stop offset="0.8065" stop-color="#00e4ff"/><stop offset="0.8387" stop-color="#00c8ff"/><stop offset="0.871" stop-color="#00adff"/><stop offset="0.9032" stop-color="#0093ff"/><stop offset="0.9355" stop-color="#007aff"/><stop offset="0.9677" stop-color="#0062ff"/><stop offset="1" stop-color="#004bff"/></linearGradient><linearGradient id="bm5g" gradientUnits="userSpaceOnUse" x1="0" y1="165.24" x2="0" y2="176.40"><stop offset="0" stop-color="#fff" stop-opacity="0"/><stop offset="1" stop-color="#fff"/></linearGradient><mask id="bm5" maskUnits="userSpaceOnUse" x="29.90" y="165.24" width="278.90" height="11.16"><rect x="29.90" y="165.24" width="278.90" height="11.16" fill="url(#bm5g)"/></mask><linearGradient id="cbb" x1="0" y1="0" x2="0" y2="1"><stop offset="0" stop-color="#800000"/><stop offset="0.0625" stop-color="#bf0000"/><stop offset="0.125" stop-color="#ff0000"/><stop offset="0.1875" stop-color="#ff4000"/><stop offset="0.25" stop-color="#ff8000"/><stop offset="0.3125" stop-color="#ffbf00"/><stop offset="0.375" stop-color="#ffff00"/><stop offset="0.4375" stop-color="#bfff40"/><stop offset="0.5" stop-color="#80ff80"/><stop offset="0.5625" stop-color="#40ffbf"/><stop offset="0.625" stop-color="#00ffff"/><stop offset="0.6875" stop-color="#00bfff"/><stop offset="0.75" stop-color="#0080ff"/><stop offset="0.8125" stop-color="#0040ff"/><stop offset="0.875" stop-color="#0000ff"/><stop offset="0.9375" stop-color="#0000bf"/><stop offset="1" stop-color="#000080"/></linearGradient><linearGradient id="d0"><stop offset="0" stop-color="#ff0200"/><stop offset="0.01639" stop-color="#ff1b00"/><stop offset="0.03279" stop-color="#ff3100"/><stop offset="0.04918" stop-color="#ff4400"/><stop offset="0.06557" stop-color="#ff5400"/><stop offset="0.08197" stop-color="#ff6000"/><stop offset="0.09836" stop-color="#ff6b00"/><stop offset="0.1148" stop-color="#ff7700"/><stop offset="0.1311" stop-color="#ff8300"/><stop offset="0.1475" stop-color="#ff9000"/><stop offset="0.1639" stop-color="#ff9c00"/><stop offset="0.1803" stop-color="#ffa700"/><stop offset="0.1967" stop-color="#ffb100"/><stop offset="0.2131" stop-color="#ffbc00"/><stop offset="0.2295" stop-color="#ffc600"/><stop offset="0.2459" stop-color="#ffcf00"/><stop offset="0.2623" stop-color="#ffd800"/><stop offset="0.2787" stop-color="#ffe200"/><stop offset="0.2951" stop-color="#ffed00"/><stop offset="0.3115" stop-color="#fff700"/><stop offset="0.3279" stop-color="#fbff04"/><stop offset="0.3443" stop-color="#eeff11"/><stop offset="0.3607" stop-color="#e0ff1f"/><stop offset="0.377" stop-color="#d1ff2e"/><stop offset="0.3934" stop-color="#c2ff3d"/><stop offset="0.4098" stop-color="#b3ff4c"/><stop offset="0.4262" stop-color="#a4ff5b"/><stop offset="0.4426" stop-color="#95ff6a"/><stop offset="0.459" stop-color="#86ff79"/><stop offset="0.4754" stop-color="#77ff88"/><stop offset="0.4918" stop-color="#67ff98"/><stop offset="0.5082" stop-color="#58ffa7"/><stop offset="0.5246" stop-color="#49ffb6"/><stop offset="0.541" stop-color="#3affc5"/><stop offset="0.5574" stop-color="#2bffd4"/><stop offset="0.5738" stop-color="#1dffe2"/><stop offset="0.5902" stop-color="#10ffef"/><stop offset="0.6066" stop-color="#03fffc"/><stop offset="0.623" stop-color="#00f5ff"/><stop offset="0.6393" stop-color="#00e7ff"/><stop offset="0.6557" stop-color="#00d9ff"/><stop offset="0.6721" stop-color="#00caff"/><stop offset="0.6885" stop-color="#00baff"/><stop offset="0.7049" stop-color="#00a9ff"/><stop offset="0.7213" stop-color="#0097ff"/><stop offset="0.7377" stop-color="#0086ff"/><stop offset="0.7541" stop-color="#0075ff"/><stop offset="0.7705" stop-color="#0065ff"/><stop offset="0.7869" stop-color="#0056ff"/><stop offset="0.8033" stop-color="#0048ff"/><stop offset="0.8197" stop-color="#003aff"/><stop offset="0.8361" stop-color="#002dff"/><stop offset="0.8525" stop-color="#001fff"/><stop offset="0.8689" stop-color="#0012ff"/><stop offset="0.8852" stop-color="#0005ff"/><stop offset="0.9016" stop-color="#0000f7"/><stop offset="0.918" stop-color="#0000e9"/><stop offset="0.9344" stop-color="#0000dc"/><stop offset="0.9508" stop-color="#0000d2"/><stop offset="0.9672" stop-color="#0000c9"/><stop offset="0.9836" stop-color="#0000c1"/><stop offset="1" stop-color="#0000bb"/></linearGradient><linearGradient id="d1"><stop offset="0" stop-color="#ff2c00"/><stop offset="0.01639" stop-color="#ff3600"/><stop offset="0.03279" stop-color="#ff4500"/><stop offset="0.04918" stop-color="#ff5400"/><stop offset="0.06557" stop-color="#ff6300"/><stop offset="0.08197" stop-color="#ff7000"/><stop offset="0.09836" stop-color="#ff7c00"/><stop offset="0.1148" stop-color="#ff8900"/><stop offset="0.1311" stop-color="#ff9800"/><stop offset="0.1475" stop-color="#ffa800"/><stop offset="0.1639" stop-color="#ffb700"/><stop offset="0.1803" stop-color="#ffc500"/><stop offset="0.1967" stop-color="#ffd400"/><stop offset="0.2131" stop-color="#ffe100"/><stop offset="0.2295" stop-color="#ffec00"/><stop offset="0.2459" stop-color="#fff500"/><stop offset="0.2623" stop-color="#fffd00"/><stop offset="0.2787" stop-color="#f8ff07"/><stop offset="0.2951" stop-color="#f1ff0e"/><stop offset="0.3115" stop-color="#e9ff16"/><stop offset="0.3279" stop-color="#e0ff1f"/><stop offset="0.3443" stop-color="#d5ff2a"/><stop offset="0.3607" stop-color="#c8ff37"/><stop offset="0.377" stop-color="#baff45"/><stop offset="0.3934" stop-color="#abff54"/><stop offset="0.4098" stop-color="#9aff65"/><stop offset="0.4262" stop-color="#89ff76"/><stop offset="0.4426" stop-color="#78ff87"/><stop offset="0.459" stop-color="#68ff97"/><stop offset="0.4754" stop-color="#58ffa7"/><stop offset="0.4918" stop-color="#48ffb7"/><stop offset="0.5082" stop-color="#39ffc6"/><stop offset="0.5246" stop-color="#2cffd3"/><stop offset="0.541" stop-color="#20ffdf"/><stop offset="0.5574" stop-color="#13ffec"/><stop offset="0.5738" stop-color="#07fff8"/><stop offset="0.5902" stop-color="#00faff"/><stop offset="0.6066" stop-color="#00eeff"/><stop offset="0.623" stop-color="#00e2ff"/><stop offset="0.6393" stop-color="#00d5ff"/><stop offset="0.6557" stop-color="#00c8ff"/><stop offset="0.6721" stop-color="#00baff"/><stop offset="0.6885" stop-color="#00abff"/><stop offset="0.7049" stop-color="#009aff"/><stop offset="0.7213" stop-color="#0089ff"/><stop offset="0.7377" stop-color="#0078ff"/><stop offset="0.7541" stop-color="#0068ff"/><stop offset="0.7705" stop-color="#0058ff"/><stop offset="0.7869" stop-color="#0049ff"/><stop offset="0.8033" stop-color="#003bff"/><stop offset="0.8197" stop-color="#002eff"/><stop offset="0.8361" stop-color="#0020ff"/><stop offset="0.8525" stop-color="#0013ff"/><stop offset="0.8689" stop-color="#0006ff"/><stop offset="0.8852" stop-color="#0000f7"/><stop offset="0.9016" stop-color="#0000e9"/><stop offset="0.918" stop-color="#0000d9"/><stop offset="0.9344" stop-color="#0000cb"/><stop offset="0.9508" stop-color="#0000bf"/><stop offset="0.9672" stop-color="#0000b6"/><stop offset="0.9836" stop-color="#0000af"/><stop offset="1" stop-color="#0000a9"/></linearGradient><linearGradient id="dm1g" gradientUnits="userSpaceOnUse" x1="0" y1="225.70" x2="0" y2="238.38"><stop offset="0" stop-color="#fff" stop-opacity="0"/><stop offset="1" stop-color="#fff"/></linearGradient><mask id="dm1" maskUnits="userSpaceOnUse" x="28.10" y="225.70" width="608.90" height="63.40"><rect x="28.10" y="225.70" width="608.90" height="63.40" fill="url(#dm1g)"/></mask><linearGradient id="d2"><stop offset="0" stop-color="#ff3400"/><stop offset="0.01639" stop-color="#ff3e00"/><stop offset="0.03279" stop-color="#ff4c00"/><stop offset="0.04918" stop-color="#ff5a00"/><stop offset="0.06557" stop-color="#ff6900"/><stop offset="0.08197" stop-color="#ff7600"/><stop offset="0.09836" stop-color="#ff8300"/><stop offset="0.1148" stop-color="#ff9100"/><stop offset="0.1311" stop-color="#ffa100"/><stop offset="0.1475" stop-color="#ffb200"/><stop offset="0.1639" stop-color="#ffc300"/><stop offset="0.1803" stop-color="#ffd300"/><stop offset="0.1967" stop-color="#ffe300"/><stop offset="0.2131" stop-color="#fff200"/><stop offset="0.2295" stop-color="#fffd00"/><stop offset="0.2459" stop-color="#f7ff08"/><stop offset="0.2623" stop-color="#efff10"/><stop offset="0.2787" stop-color="#e7ff18"/><stop offset="0.2951" stop-color="#e1ff1e"/><stop offset="0.3115" stop-color="#dbff24"/><stop offset="0.3279" stop-color="#d3ff2c"/><stop offset="0.3443" stop-color="#c9ff36"/><stop offset="0.3607" stop-color="#bdff42"/><stop offset="0.377" stop-color="#afff50"/><stop offset="0.3934" stop-color="#9fff60"/><stop offset="0.4098" stop-color="#8fff70"/><stop offset="0.4262" stop-color="#7dff82"/><stop offset="0.4426" stop-color="#6bff94"/><stop offset="0.459" stop-color="#5affa5"/><stop offset="0.4754" stop-color="#4affb5"/><stop offset="0.4918" stop-color="#3affc5"/><stop offset="0.5082" stop-color="#2bffd4"/><stop offset="0.5246" stop-color="#1fffe0"/><stop offset="0.541" stop-color="#14ffeb"/><stop offset="0.5574" stop-color="#09fff6"/><stop offset="0.5738" stop-color="#00fcff"/><stop offset="0.5902" stop-color="#00f1ff"/><stop offset="0.6066" stop-color="#00e5ff"/><stop offset="0.623" stop-color="#00d9ff"/><stop offset="0.6393" stop-color="#00cdff"/><stop offset="0.6557" stop-color="#00c0ff"/><stop offset="0.6721" stop-color="#00b2ff"/><stop offset="0.6885" stop-color="#00a3ff"/><stop offset="0.7049" stop-color="#0093ff"/><stop offset="0.7213" stop-color="#0082ff"/><stop offset="0.7377" stop-color="#0072ff"/><stop offset="0.7541" stop-color="#0061ff"/><stop offset="0.7705" stop-color="#0051ff"/><stop offset="0.7869" stop-color="#0043ff"/><stop offset="0.8033" stop-color="#0035ff"/><stop offset="0.8197" stop-color="#0028ff"/><stop offset="0.8361" stop-color="#001aff"/><stop offset="0.8525" stop-color="#000dff"/><stop offset="0.8689" stop-color="#0000ff"/><stop offset="0.8852" stop-color="#0000f1"/><stop offset="0.9016" stop-color="#0000e1"/><stop offset="0.918" stop-color="#0000d1"/><stop offset="0.9344" stop-color="#0000c1"/><stop offset="0.9508" stop-color="#0000b5"/><stop offset="0.9672" stop-color="#0000ac"/><stop offset="0.9836" stop-color="#0000a4"/><stop offset="1" stop-color="#00009f"/></linearGradient><linearGradient id="dm2g" gradientUnits="userSpaceOnUse" x1="0" y1="238.38" x2="0" y2="251.06"><stop offset="0" stop-color="#fff" stop-opacity="0"/><stop offset="1" stop-color="#fff"/></linearGradient><mask id="dm2" maskUnits="userSpaceOnUse" x="28.10" y="238.38" width="608.90" height="50.72"><rect x="28.10" y="238.38" width="608.90" height="50.72" fill="url(#dm2g)"/></mask><linearGradient id="d3"><stop offset="0" stop-color="#ff1c00"/><stop offset="0.01639" stop-color="#ff3500"/><stop offset="0.03279" stop-color="#ff4700"/><stop offset="0.04918" stop-color="#ff5700"/><stop offset="0.06557" stop-color="#ff6500"/><stop offset="0.08197" stop-color="#ff7300"/><stop offset="0.09836" stop-color="#ff8000"/><stop offset="0.1148" stop-color="#ff8e00"/><stop offset="0.1311" stop-color="#ff9e00"/><stop offset="0.1475" stop-color="#ffaf00"/><stop offset="0.1639" stop-color="#ffc000"/><stop offset="0.1803" stop-color="#ffd000"/><stop offset="0.1967" stop-color="#ffe000"/><stop offset="0.2131" stop-color="#ffee00"/><stop offset="0.2295" stop-color="#fffa00"/><stop offset="0.2459" stop-color="#f9ff06"/><stop offset="0.2623" stop-color="#f0ff0f"/><stop offset="0.2787" stop-color="#e8ff17"/><stop offset="0.2951" stop-color="#e2ff1d"/><stop offset="0.3115" stop-color="#dbff24"/><stop offset="0.3279" stop-color="#d4ff2b"/><stop offset="0.3443" stop-color="#caff35"/><stop offset="0.3607" stop-color="#beff41"/><stop offset="0.377" stop-color="#b0ff4f"/><stop offset="0.3934" stop-color="#a1ff5e"/><stop offset="0.4098" stop-color="#90ff6f"/><stop offset="0.4262" stop-color="#7eff81"/><stop offset="0.4426" stop-color="#6dff92"/><stop offset="0.459" stop-color="#5cffa3"/><stop offset="0.4754" stop-color="#4cffb3"/><stop offset="0.4918" stop-color="#3cffc3"/><stop offset="0.5082" stop-color="#2dffd2"/><stop offset="0.5246" stop-color="#21ffde"/><stop offset="0.541" stop-color="#16ffe9"/><stop offset="0.5574" stop-color="#0bfff4"/><stop offset="0.5738" stop-color="#00feff"/><stop offset="0.5902" stop-color="#00f2ff"/><stop offset="0.6066" stop-color="#00e6ff"/><stop offset="0.623" stop-color="#00daff"/><stop offset="0.6393" stop-color="#00cdff"/><stop offset="0.6557" stop-color="#00c0ff"/><stop offset="0.6721" stop-color="#00b2ff"/><stop offset="0.6885" stop-color="#00a3ff"/><stop offset="0.7049" stop-color="#0093ff"/><stop offset="0.7213" stop-color="#0082ff"/><stop offset="0.7377" stop-color="#0071ff"/><stop offset="0.7541" stop-color="#0061ff"/><stop offset="0.7705" stop-color="#0051ff"/><stop offset="0.7869" stop-color="#0043ff"/><stop offset="0.8033" stop-color="#0035ff"/><stop offset="0.8197" stop-color="#0028ff"/><stop offset="0.8361" stop-color="#001bff"/><stop offset="0.8525" stop-color="#000dff"/><stop offset="0.8689" stop-color="#0000ff"/><stop offset="0.8852" stop-color="#0000f1"/><stop offset="0.9016" stop-color="#0000e1"/><stop offset="0.918" stop-color="#0000d0"/><stop offset="0.9344" stop-color="#0000c0"/><stop offset="0.9508" stop-color="#0000b3"/><stop offset="0.9672" stop-color="#0000aa"/><stop offset="0.9836" stop-color="#0000a2"/><stop offset="1" stop-color="#00009d"/></linearGradient><linearGradient id="dm3g" gradientUnits="userSpaceOnUse" x1="0" y1="251.06" x2="0" y2="263.74"><stop offset="0" stop-color="#fff" stop-opacity="0"/><stop offset="1" stop-color="#fff"/></linearGradient><mask id="dm3" maskUnits="userSpaceOnUse" x="28.10" y="251.06" width="608.90" height="38.04"><rect x="28.10" y="251.06" width="608.90" height="38.04" fill="url(#dm3g)"/></mask><linearGradient id="d4"><stop offset="0" stop-color="#e10000"/><stop offset="0.01639" stop-color="#ff1900"/><stop offset="0.03279" stop-color="#ff3500"/><stop offset="0.04918" stop-color="#ff4900"/><stop offset="0.06557" stop-color="#ff5900"/><stop offset="0.08197" stop-color="#ff6600"/><stop offset="0.09836" stop-color="#ff7300"/><stop offset="0.1148" stop-color="#ff8000"/><stop offset="0.1311" stop-color="#ff8f00"/><stop offset="0.1475" stop-color="#ff9f00"/><stop offset="0.1639" stop-color="#ffae00"/><stop offset="0.1803" stop-color="#ffbc00"/><stop offset="0.1967" stop-color="#ffca00"/><stop offset="0.2131" stop-color="#ffd700"/><stop offset="0.2295" stop-color="#ffe300"/><stop offset="0.2459" stop-color="#ffef00"/><stop offset="0.2623" stop-color="#fffa00"/><stop offset="0.2787" stop-color="#fbff04"/><stop offset="0.2951" stop-color="#f3ff0c"/><stop offset="0.3115" stop-color="#ebff14"/><stop offset="0.3279" stop-color="#e2ff1d"/><stop offset="0.3443" stop-color="#d8ff27"/><stop offset="0.3607" stop-color="#cbff34"/><stop offset="0.377" stop-color="#bdff42"/><stop offset="0.3934" stop-color="#afff50"/><stop offset="0.4098" stop-color="#9fff60"/><stop offset="0.4262" stop-color="#8fff70"/><stop offset="0.4426" stop-color="#7eff81"/><stop offset="0.459" stop-color="#6fff90"/><stop offset="0.4754" stop-color="#5effa1"/><stop offset="0.4918" stop-color="#4fffb0"/><stop offset="0.5082" stop-color="#40ffbf"/><stop offset="0.5246" stop-color="#33ffcc"/><stop offset="0.541" stop-color="#26ffd9"/><stop offset="0.5574" stop-color="#19ffe6"/><stop offset="0.5738" stop-color="#0cfff3"/><stop offset="0.5902" stop-color="#00ffff"/><stop offset="0.6066" stop-color="#00f2ff"/><stop offset="0.623" stop-color="#00e4ff"/><stop offset="0.6393" stop-color="#00d7ff"/><stop offset="0.6557" stop-color="#00c9ff"/><stop offset="0.6721" stop-color="#00baff"/><stop offset="0.6885" stop-color="#00aaff"/><stop offset="0.7049" stop-color="#009aff"/><stop offset="0.7213" stop-color="#0089ff"/><stop offset="0.7377" stop-color="#0078ff"/><stop offset="0.7541" stop-color="#0068ff"/><stop offset="0.7705" stop-color="#0058ff"/><stop offset="0.7869" stop-color="#0049ff"/><stop offset="0.8033" stop-color="#003cff"/><stop offset="0.8197" stop-color="#002eff"/><stop offset="0.8361" stop-color="#0021ff"/><stop offset="0.8525" stop-color="#0014ff"/><stop offset="0.8689" stop-color="#0006ff"/><stop offset="0.8852" stop-color="#0000f7"/><stop offset="0.9016" stop-color="#0000e7"/><stop offset="0.918" stop-color="#0000d6"/><stop offset="0.9344" stop-color="#0000c6"/><stop offset="0.9508" stop-color="#0000b9"/><stop offset="0.9672" stop-color="#0000b0"/><stop offset="0.9836" stop-color="#0000a8"/><stop offset="1" stop-color="#0000a3"/></linearGradient><linearGradient id="dm4g" gradientUnits="userSpaceOnUse" x1="0" y1="263.74" x2="0" y2="276.42"><stop offset="0" stop-color="#fff" stop-opacity="0"/><stop offset="1" stop-color="#fff"/></linearGradient><mask id="dm4" maskUnits="userSpaceOnUse" x="28.10" y="263.74" width="608.90" height="25.36"><rect x="28.10" y="263.74" width="608.90" height="25.36" fill="url(#dm4g)"/></mask><linearGradient id="d5"><stop offset="0" stop-color="#b70000"/><stop offset="0.01639" stop-color="#ff0400"/><stop offset="0.03279" stop-color="#ff2800"/><stop offset="0.04918" stop-color="#ff3f00"/><stop offset="0.06557" stop-color="#ff4f00"/><stop offset="0.08197" stop-color="#ff5c00"/><stop offset="0.09836" stop-color="#ff6800"/><stop offset="0.1148" stop-color="#ff7500"/><stop offset="0.1311" stop-color="#ff8300"/><stop offset="0.1475" stop-color="#ff9100"/><stop offset="0.1639" stop-color="#ff9f00"/><stop offset="0.1803" stop-color="#ffac00"/><stop offset="0.1967" stop-color="#ffb800"/><stop offset="0.2131" stop-color="#ffc400"/><stop offset="0.2295" stop-color="#ffd000"/><stop offset="0.2459" stop-color="#ffdc00"/><stop offset="0.2623" stop-color="#ffe900"/><stop offset="0.2787" stop-color="#fff300"/><stop offset="0.2951" stop-color="#fffd00"/><stop offset="0.3115" stop-color="#f8ff07"/><stop offset="0.3279" stop-color="#eeff11"/><stop offset="0.3443" stop-color="#e3ff1c"/><stop offset="0.3607" stop-color="#d6ff29"/><stop offset="0.377" stop-color="#c9ff36"/><stop offset="0.3934" stop-color="#bbff44"/><stop offset="0.4098" stop-color="#acff53"/><stop offset="0.4262" stop-color="#9cff63"/><stop offset="0.4426" stop-color="#8dff72"/><stop offset="0.459" stop-color="#7eff81"/><stop offset="0.4754" stop-color="#6eff91"/><stop offset="0.4918" stop-color="#5fffa0"/><stop offset="0.5082" stop-color="#50ffaf"/><stop offset="0.5246" stop-color="#41ffbe"/><stop offset="0.541" stop-color="#34ffcb"/><stop offset="0.5574" stop-color="#26ffd9"/><stop offset="0.5738" stop-color="#18ffe7"/><stop offset="0.5902" stop-color="#0afff5"/><stop offset="0.6066" stop-color="#00fbff"/><stop offset="0.623" stop-color="#00edff"/><stop offset="0.6393" stop-color="#00dfff"/><stop offset="0.6557" stop-color="#00d0ff"/><stop offset="0.6721" stop-color="#00c1ff"/><stop offset="0.6885" stop-color="#00b1ff"/><stop offset="0.7049" stop-color="#00a0ff"/><stop offset="0.7213" stop-color="#008fff"/><stop offset="0.7377" stop-color="#007eff"/><stop offset="0.7541" stop-color="#006eff"/><stop offset="0.7705" stop-color="#005eff"/><stop offset="0.7869" stop-color="#004fff"/><stop offset="0.8033" stop-color="#0041ff"/><stop offset="0.8197" stop-color="#0034ff"/><stop offset="0.8361" stop-color="#0027ff"/><stop offset="0.8525" stop-color="#001aff"/><stop offset="0.8689" stop-color="#000cff"/><stop offset="0.8852" stop-color="#0000fd"/><stop offset="0.9016" stop-color="#0000ed"/><stop offset="0.918" stop-color="#0000dc"/><stop offset="0.9344" stop-color="#0000cc"/><stop offset="0.9508" stop-color="#0000bf"/><stop offset="0.9672" stop-color="#0000b6"/><stop offset="0.9836" stop-color="#0000ae"/><stop offset="1" stop-color="#0000a9"/></linearGradient><linearGradient id="dm5g" gradientUnits="userSpaceOnUse" x1="0" y1="276.42" x2="0" y2="282.76"><stop offset="0" stop-color="#fff" stop-opacity="0"/><stop offset="1" stop-color="#fff"/></linearGradient><mask id="dm5" maskUnits="userSpaceOnUse" x="28.10" y="276.42" width="608.90" height="12.68"><rect x="28.10" y="276.42" width="608.90" height="12.68" fill="url(#dm5g)"/></mask><linearGradient id="d6"><stop offset="0" stop-color="#860000"/><stop offset="0.01639" stop-color="#ea0000"/><stop offset="0.03279" stop-color="#ff1700"/><stop offset="0.04918" stop-color="#ff3200"/><stop offset="0.06557" stop-color="#ff4300"/><stop offset="0.08197" stop-color="#ff5000"/><stop offset="0.09836" stop-color="#ff5c00"/><stop offset="0.1148" stop-color="#ff6800"/><stop offset="0.1311" stop-color="#ff7400"/><stop offset="0.1475" stop-color="#ff8100"/><stop offset="0.1639" stop-color="#ff8c00"/><stop offset="0.1803" stop-color="#ff9700"/><stop offset="0.1967" stop-color="#ffa100"/><stop offset="0.2131" stop-color="#ffac00"/><stop offset="0.2295" stop-color="#ffb800"/><stop offset="0.2459" stop-color="#ffc500"/><stop offset="0.2623" stop-color="#ffd300"/><stop offset="0.2787" stop-color="#ffdf00"/><stop offset="0.2951" stop-color="#ffea00"/><stop offset="0.3115" stop-color="#fff500"/><stop offset="0.3279" stop-color="#feff01"/><stop offset="0.3443" stop-color="#f2ff0d"/><stop offset="0.3607" stop-color="#e5ff1a"/><stop offset="0.377" stop-color="#d7ff28"/><stop offset="0.3934" stop-color="#caff35"/><stop offset="0.4098" stop-color="#bcff43"/><stop offset="0.4262" stop-color="#adff52"/><stop offset="0.4426" stop-color="#9fff60"/><stop offset="0.459" stop-color="#91ff6e"/><stop offset="0.4754" stop-color="#82ff7d"/><stop offset="0.4918" stop-color="#72ff8d"/><stop offset="0.5082" stop-color="#63ff9c"/><stop offset="0.5246" stop-color="#54ffab"/><stop offset="0.541" stop-color="#44ffbb"/><stop offset="0.5574" stop-color="#35ffca"/><stop offset="0.5738" stop-color="#26ffd9"/><stop offset="0.5902" stop-color="#17ffe8"/><stop offset="0.6066" stop-color="#08fff7"/><stop offset="0.623" stop-color="#00f8ff"/><stop offset="0.6393" stop-color="#00e9ff"/><stop offset="0.6557" stop-color="#00daff"/><stop offset="0.6721" stop-color="#00caff"/><stop offset="0.6885" stop-color="#00b9ff"/><stop offset="0.7049" stop-color="#00a8ff"/><stop offset="0.7213" stop-color="#0097ff"/><stop offset="0.7377" stop-color="#0086ff"/><stop offset="0.7541" stop-color="#0075ff"/><stop offset="0.7705" stop-color="#0065ff"/><stop offset="0.7869" stop-color="#0056ff"/><stop offset="0.8033" stop-color="#0048ff"/><stop offset="0.8197" stop-color="#003bff"/><stop offset="0.8361" stop-color="#002eff"/><stop offset="0.8525" stop-color="#0021ff"/><stop offset="0.8689" stop-color="#0013ff"/><stop offset="0.8852" stop-color="#0005ff"/><stop offset="0.9016" stop-color="#0000f5"/><stop offset="0.918" stop-color="#0000e4"/><stop offset="0.9344" stop-color="#0000d4"/><stop offset="0.9508" stop-color="#0000c7"/><stop offset="0.9672" stop-color="#0000be"/><stop offset="0.9836" stop-color="#0000b7"/><stop offset="1" stop-color="#0000b1"/></linearGradient><linearGradient id="dm6g" gradientUnits="userSpaceOnUse" x1="0" y1="282.76" x2="0" y2="289.10"><stop offset="0" stop-color="#fff" stop-opacity="0"/><stop offset="1" stop-color="#fff"/></linearGradient><mask id="dm6" maskUnits="userSpaceOnUse" x="28.10" y="282.76" width="608.90" height="6.34"><rect x="28.10" y="282.76" width="608.90" height="6.34" fill="url(#dm6g)"/></mask><mask id="mskd" maskUnits="userSpaceOnUse" x="28.1" y="225.7" width="608.9" height="63.400000000000034"><ellipse cx="145.8" cy="289.1" rx="2.6" ry="25" fill="url(#sp)" opacity="0.03"/><ellipse cx="154.4" cy="289.1" rx="2.6" ry="25" fill="url(#sp)" opacity="0.05"/><ellipse cx="163.3" cy="289.1" rx="2.6" ry="25" fill="url(#sp)" opacity="0.08"/><ellipse cx="172.5" cy="289.1" rx="2.6" ry="25" fill="url(#sp)" opacity="0.10"/><ellipse cx="182.0" cy="289.1" rx="2.7" ry="25" fill="url(#sp)" opacity="0.12"/><ellipse cx="191.8" cy="289.1" rx="2.7" ry="25" fill="url(#sp)" opacity="0.14"/><ellipse cx="201.9" cy="289.1" rx="2.7" ry="25" fill="url(#sp)" opacity="0.16"/><ellipse cx="212.3" cy="289.1" rx="2.8" ry="25" fill="url(#sp)" opacity="0.18"/><ellipse cx="223.0" cy="289.1" rx="2.8" ry="25" fill="url(#sp)" opacity="0.20"/><ellipse cx="234.0" cy="289.1" rx="2.8" ry="25" fill="url(#sp)" opacity="0.23"/><ellipse cx="245.4" cy="289.1" rx="2.9" ry="25" fill="url(#sp)" opacity="0.27"/><ellipse cx="257.0" cy="289.1" rx="3" ry="62" fill="url(#sp)" opacity="0.07"/><ellipse cx="257.0" cy="289.1" rx="2.9" ry="25" fill="url(#sp)" opacity="0.31"/><ellipse cx="268.9" cy="289.1" rx="3" ry="62" fill="url(#sp)" opacity="0.08"/><ellipse cx="268.9" cy="289.1" rx="3.0" ry="25" fill="url(#sp)" opacity="0.35"/><ellipse cx="281.1" cy="289.1" rx="3" ry="62" fill="url(#sp)" opacity="0.09"/><ellipse cx="281.1" cy="289.1" rx="3.0" ry="25" fill="url(#sp)" opacity="0.39"/><ellipse cx="293.7" cy="289.1" rx="3" ry="62" fill="url(#sp)" opacity="0.10"/><ellipse cx="293.7" cy="289.1" rx="3.1" ry="25" fill="url(#sp)" opacity="0.43"/><ellipse cx="306.5" cy="289.1" rx="3" ry="62" fill="url(#sp)" opacity="0.11"/><ellipse cx="306.5" cy="289.1" rx="3.1" ry="25" fill="url(#sp)" opacity="0.49"/><ellipse cx="312.0" cy="225.7" rx="3.6" ry="24" fill="url(#sp)" opacity="0.04"/><ellipse cx="319.7" cy="289.1" rx="3" ry="62" fill="url(#sp)" opacity="0.12"/><ellipse cx="319.7" cy="289.1" rx="3.1" ry="25" fill="url(#sp)" opacity="0.56"/><ellipse cx="325.3" cy="225.7" rx="3.6" ry="24" fill="url(#sp)" opacity="0.08"/><ellipse cx="333.1" cy="289.1" rx="3" ry="62" fill="url(#sp)" opacity="0.14"/><ellipse cx="333.1" cy="289.1" rx="3.2" ry="25" fill="url(#sp)" opacity="0.63"/><ellipse cx="338.8" cy="225.7" rx="3.6" ry="24" fill="url(#sp)" opacity="0.12"/><ellipse cx="346.8" cy="289.1" rx="3" ry="62" fill="url(#sp)" opacity="0.15"/><ellipse cx="346.8" cy="289.1" rx="3.2" ry="25" fill="url(#sp)" opacity="0.70"/><ellipse cx="352.7" cy="225.7" rx="3.6" ry="24" fill="url(#sp)" opacity="0.16"/><ellipse cx="360.9" cy="289.1" rx="3" ry="62" fill="url(#sp)" opacity="0.17"/><ellipse cx="360.9" cy="289.1" rx="3.3" ry="25" fill="url(#sp)" opacity="0.78"/><ellipse cx="366.9" cy="225.7" rx="3.6" ry="24" fill="url(#sp)" opacity="0.20"/><ellipse cx="375.3" cy="289.1" rx="3" ry="62" fill="url(#sp)" opacity="0.18"/><ellipse cx="375.3" cy="289.1" rx="3.3" ry="25" fill="url(#sp)" opacity="0.83"/><ellipse cx="381.4" cy="225.7" rx="3.6" ry="24" fill="url(#sp)" opacity="0.25"/><ellipse cx="389.9" cy="289.1" rx="3" ry="62" fill="url(#sp)" opacity="0.19"/><ellipse cx="389.9" cy="289.1" rx="3.3" ry="25" fill="url(#sp)" opacity="0.87"/><ellipse cx="396.2" cy="225.7" rx="3.6" ry="24" fill="url(#sp)" opacity="0.29"/><ellipse cx="404.9" cy="289.1" rx="3" ry="62" fill="url(#sp)" opacity="0.20"/><ellipse cx="404.9" cy="289.1" rx="3.3" ry="25" fill="url(#sp)" opacity="0.92"/><ellipse cx="411.2" cy="225.7" rx="3.6" ry="24" fill="url(#sp)" opacity="0.34"/><ellipse cx="420.1" cy="289.1" rx="3" ry="62" fill="url(#sp)" opacity="0.21"/><ellipse cx="420.1" cy="289.1" rx="3.3" ry="25" fill="url(#sp)" opacity="0.96"/><ellipse cx="426.6" cy="225.7" rx="3.6" ry="24" fill="url(#sp)" opacity="0.38"/><ellipse cx="435.7" cy="289.1" rx="3" ry="62" fill="url(#sp)" opacity="0.22"/><ellipse cx="435.7" cy="289.1" rx="3.3" ry="25" fill="url(#sp)" opacity="1.00"/><ellipse cx="442.3" cy="225.7" rx="3.6" ry="24" fill="url(#sp)" opacity="0.40"/><ellipse cx="451.6" cy="289.1" rx="3" ry="62" fill="url(#sp)" opacity="0.22"/><ellipse cx="451.6" cy="289.1" rx="3.3" ry="25" fill="url(#sp)" opacity="1.00"/><ellipse cx="458.3" cy="225.7" rx="3.6" ry="24" fill="url(#sp)" opacity="0.40"/><ellipse cx="467.7" cy="289.1" rx="3" ry="62" fill="url(#sp)" opacity="0.22"/><ellipse cx="467.7" cy="289.1" rx="3.3" ry="25" fill="url(#sp)" opacity="1.00"/><ellipse cx="474.6" cy="225.7" rx="3.6" ry="24" fill="url(#sp)" opacity="0.40"/><ellipse cx="484.2" cy="289.1" rx="3" ry="62" fill="url(#sp)" opacity="0.22"/><ellipse cx="484.2" cy="289.1" rx="3.3" ry="25" fill="url(#sp)" opacity="1.00"/><ellipse cx="491.2" cy="225.7" rx="3.6" ry="24" fill="url(#sp)" opacity="0.40"/><ellipse cx="501.0" cy="289.1" rx="3" ry="62" fill="url(#sp)" opacity="0.22"/><ellipse cx="501.0" cy="289.1" rx="3.3" ry="25" fill="url(#sp)" opacity="1.00"/><ellipse cx="508.1" cy="225.7" rx="3.6" ry="24" fill="url(#sp)" opacity="0.40"/><ellipse cx="518.1" cy="289.1" rx="3" ry="62" fill="url(#sp)" opacity="0.22"/><ellipse cx="518.1" cy="289.1" rx="3.3" ry="25" fill="url(#sp)" opacity="1.00"/><ellipse cx="525.3" cy="225.7" rx="3.6" ry="24" fill="url(#sp)" opacity="0.40"/><ellipse cx="535.5" cy="289.1" rx="3" ry="62" fill="url(#sp)" opacity="0.22"/><ellipse cx="535.5" cy="289.1" rx="3.3" ry="25" fill="url(#sp)" opacity="1.00"/><ellipse cx="542.9" cy="225.7" rx="3.6" ry="24" fill="url(#sp)" opacity="0.40"/><ellipse cx="553.2" cy="289.1" rx="3" ry="62" fill="url(#sp)" opacity="0.22"/><ellipse cx="553.2" cy="289.1" rx="3.3" ry="25" fill="url(#sp)" opacity="1.00"/><ellipse cx="560.7" cy="225.7" rx="3.6" ry="24" fill="url(#sp)" opacity="0.40"/><ellipse cx="571.1" cy="289.1" rx="3" ry="62" fill="url(#sp)" opacity="0.22"/><ellipse cx="571.1" cy="289.1" rx="3.3" ry="25" fill="url(#sp)" opacity="1.00"/><ellipse cx="578.8" cy="225.7" rx="3.6" ry="24" fill="url(#sp)" opacity="0.40"/><ellipse cx="589.4" cy="289.1" rx="3" ry="62" fill="url(#sp)" opacity="0.22"/><ellipse cx="589.4" cy="289.1" rx="3.3" ry="25" fill="url(#sp)" opacity="1.00"/><ellipse cx="597.2" cy="225.7" rx="3.6" ry="24" fill="url(#sp)" opacity="0.40"/><ellipse cx="608.0" cy="289.1" rx="3" ry="62" fill="url(#sp)" opacity="0.22"/><ellipse cx="608.0" cy="289.1" rx="3.3" ry="25" fill="url(#sp)" opacity="1.00"/><ellipse cx="615.9" cy="225.7" rx="3.6" ry="24" fill="url(#sp)" opacity="0.40"/><ellipse cx="626.9" cy="289.1" rx="3" ry="62" fill="url(#sp)" opacity="0.22"/><ellipse cx="626.9" cy="289.1" rx="3.3" ry="25" fill="url(#sp)" opacity="1.00"/><ellipse cx="635.0" cy="225.7" rx="3.6" ry="24" fill="url(#sp)" opacity="0.40"/></mask><linearGradient id="D0"><stop offset="0" stop-color="#800000"/><stop offset="0.01639" stop-color="#810000"/><stop offset="0.03279" stop-color="#970000"/><stop offset="0.04918" stop-color="#aa0000"/><stop offset="0.06557" stop-color="#ba0000"/><stop offset="0.08197" stop-color="#c60000"/><stop offset="0.09836" stop-color="#d10000"/><stop offset="0.1148" stop-color="#dd0000"/><stop offset="0.1311" stop-color="#e90000"/><stop offset="0.1475" stop-color="#f60000"/><stop offset="0.1639" stop-color="#ff0300"/><stop offset="0.1803" stop-color="#ff0e00"/><stop offset="0.1967" stop-color="#ff1800"/><stop offset="0.2131" stop-color="#ff2300"/><stop offset="0.2295" stop-color="#ff2d00"/><stop offset="0.2459" stop-color="#ff3600"/><stop offset="0.2623" stop-color="#ff3f00"/><stop offset="0.2787" stop-color="#ff4900"/><stop offset="0.2951" stop-color="#ff5400"/><stop offset="0.3115" stop-color="#ff5e00"/><stop offset="0.3279" stop-color="#ff6a00"/><stop offset="0.3443" stop-color="#ff7700"/><stop offset="0.3607" stop-color="#ff8500"/><stop offset="0.377" stop-color="#ff9400"/><stop offset="0.3934" stop-color="#ffa300"/><stop offset="0.4098" stop-color="#ffb200"/><stop offset="0.4262" stop-color="#ffc100"/><stop offset="0.4426" stop-color="#ffd000"/><stop offset="0.459" stop-color="#ffdf00"/><stop offset="0.4754" stop-color="#ffee00"/><stop offset="0.4918" stop-color="#fffe00"/><stop offset="0.5082" stop-color="#f1ff0e"/><stop offset="0.5246" stop-color="#e2ff1d"/><stop offset="0.541" stop-color="#d3ff2c"/><stop offset="0.5574" stop-color="#c4ff3b"/><stop offset="0.5738" stop-color="#b6ff49"/><stop offset="0.5902" stop-color="#a9ff56"/><stop offset="0.6066" stop-color="#9cff63"/><stop offset="0.623" stop-color="#8fff70"/><stop offset="0.6393" stop-color="#81ff7e"/><stop offset="0.6557" stop-color="#73ff8c"/><stop offset="0.6721" stop-color="#64ff9b"/><stop offset="0.6885" stop-color="#54ffab"/><stop offset="0.7049" stop-color="#43ffbc"/><stop offset="0.7213" stop-color="#31ffce"/><stop offset="0.7377" stop-color="#20ffdf"/><stop offset="0.7541" stop-color="#0ffff0"/><stop offset="0.7705" stop-color="#00feff"/><stop offset="0.7869" stop-color="#00efff"/><stop offset="0.8033" stop-color="#00e1ff"/><stop offset="0.8197" stop-color="#00d3ff"/><stop offset="0.8361" stop-color="#00c6ff"/><stop offset="0.8525" stop-color="#00b8ff"/><stop offset="0.8689" stop-color="#00abff"/><stop offset="0.8852" stop-color="#009eff"/><stop offset="0.9016" stop-color="#0091ff"/><stop offset="0.918" stop-color="#0083ff"/><stop offset="0.9344" stop-color="#0076ff"/><stop offset="0.9508" stop-color="#006cff"/><stop offset="0.9672" stop-color="#0063ff"/><stop offset="0.9836" stop-color="#005bff"/><stop offset="1" stop-color="#0055ff"/></linearGradient><linearGradient id="D1"><stop offset="0" stop-color="#920000"/><stop offset="0.01639" stop-color="#a20000"/><stop offset="0.03279" stop-color="#b10000"/><stop offset="0.04918" stop-color="#c00000"/><stop offset="0.06557" stop-color="#ce0000"/><stop offset="0.08197" stop-color="#db0000"/><stop offset="0.09836" stop-color="#e90000"/><stop offset="0.1148" stop-color="#f70000"/><stop offset="0.1311" stop-color="#ff0800"/><stop offset="0.1475" stop-color="#ff1900"/><stop offset="0.1639" stop-color="#ff2a00"/><stop offset="0.1803" stop-color="#ff3a00"/><stop offset="0.1967" stop-color="#ff4b00"/><stop offset="0.2131" stop-color="#ff5900"/><stop offset="0.2295" stop-color="#ff6500"/><stop offset="0.2459" stop-color="#ff6f00"/><stop offset="0.2623" stop-color="#ff7800"/><stop offset="0.2787" stop-color="#ff8000"/><stop offset="0.2951" stop-color="#ff8600"/><stop offset="0.3115" stop-color="#ff8c00"/><stop offset="0.3279" stop-color="#ff9300"/><stop offset="0.3443" stop-color="#ff9d00"/><stop offset="0.3607" stop-color="#ffa900"/><stop offset="0.377" stop-color="#ffb700"/><stop offset="0.3934" stop-color="#ffc600"/><stop offset="0.4098" stop-color="#ffd700"/><stop offset="0.4262" stop-color="#ffe900"/><stop offset="0.4426" stop-color="#fffb00"/><stop offset="0.459" stop-color="#f2ff0d"/><stop offset="0.4754" stop-color="#e2ff1d"/><stop offset="0.4918" stop-color="#d2ff2d"/><stop offset="0.5082" stop-color="#c3ff3c"/><stop offset="0.5246" stop-color="#b7ff48"/><stop offset="0.541" stop-color="#acff53"/><stop offset="0.5574" stop-color="#a1ff5e"/><stop offset="0.5738" stop-color="#95ff6a"/><stop offset="0.5902" stop-color="#8aff75"/><stop offset="0.6066" stop-color="#7eff81"/><stop offset="0.623" stop-color="#72ff8d"/><stop offset="0.6393" stop-color="#66ff99"/><stop offset="0.6557" stop-color="#59ffa6"/><stop offset="0.6721" stop-color="#4bffb4"/><stop offset="0.6885" stop-color="#3cffc3"/><stop offset="0.7049" stop-color="#2cffd3"/><stop offset="0.7213" stop-color="#1bffe4"/><stop offset="0.7377" stop-color="#0bfff4"/><stop offset="0.7541" stop-color="#00f9ff"/><stop offset="0.7705" stop-color="#00eaff"/><stop offset="0.7869" stop-color="#00dbff"/><stop offset="0.8033" stop-color="#00cdff"/><stop offset="0.8197" stop-color="#00c0ff"/><stop offset="0.8361" stop-color="#00b3ff"/><stop offset="0.8525" stop-color="#00a6ff"/><stop offset="0.8689" stop-color="#0098ff"/><stop offset="0.8852" stop-color="#008aff"/><stop offset="0.9016" stop-color="#007aff"/><stop offset="0.918" stop-color="#0069ff"/><stop offset="0.9344" stop-color="#005aff"/><stop offset="0.9508" stop-color="#004dff"/><stop offset="0.9672" stop-color="#0044ff"/><stop offset="0.9836" stop-color="#003cff"/><stop offset="1" stop-color="#0037ff"/></linearGradient><linearGradient id="Dm1g" gradientUnits="userSpaceOnUse" x1="0" y1="225.70" x2="0" y2="257.40"><stop offset="0" stop-color="#fff" stop-opacity="0"/><stop offset="1" stop-color="#fff"/></linearGradient><mask id="Dm1" maskUnits="userSpaceOnUse" x="28.10" y="225.70" width="608.90" height="63.40"><rect x="28.10" y="225.70" width="608.90" height="63.40" fill="url(#Dm1g)"/></mask><linearGradient id="D2"><stop offset="0" stop-color="#800000"/><stop offset="0.01639" stop-color="#800000"/><stop offset="0.03279" stop-color="#800000"/><stop offset="0.04918" stop-color="#980000"/><stop offset="0.06557" stop-color="#a90000"/><stop offset="0.08197" stop-color="#b60000"/><stop offset="0.09836" stop-color="#c20000"/><stop offset="0.1148" stop-color="#ce0000"/><stop offset="0.1311" stop-color="#da0000"/><stop offset="0.1475" stop-color="#e70000"/><stop offset="0.1639" stop-color="#f20000"/><stop offset="0.1803" stop-color="#fd0000"/><stop offset="0.1967" stop-color="#ff0800"/><stop offset="0.2131" stop-color="#ff1300"/><stop offset="0.2295" stop-color="#ff1f00"/><stop offset="0.2459" stop-color="#ff2c00"/><stop offset="0.2623" stop-color="#ff3a00"/><stop offset="0.2787" stop-color="#ff4600"/><stop offset="0.2951" stop-color="#ff5100"/><stop offset="0.3115" stop-color="#ff5c00"/><stop offset="0.3279" stop-color="#ff6700"/><stop offset="0.3443" stop-color="#ff7300"/><stop offset="0.3607" stop-color="#ff8000"/><stop offset="0.377" stop-color="#ff8e00"/><stop offset="0.3934" stop-color="#ff9b00"/><stop offset="0.4098" stop-color="#ffa900"/><stop offset="0.4262" stop-color="#ffb800"/><stop offset="0.4426" stop-color="#ffc600"/><stop offset="0.459" stop-color="#ffd400"/><stop offset="0.4754" stop-color="#ffe300"/><stop offset="0.4918" stop-color="#fff300"/><stop offset="0.5082" stop-color="#fcff03"/><stop offset="0.5246" stop-color="#edff12"/><stop offset="0.541" stop-color="#ddff22"/><stop offset="0.5574" stop-color="#ceff31"/><stop offset="0.5738" stop-color="#bfff40"/><stop offset="0.5902" stop-color="#b0ff4f"/><stop offset="0.6066" stop-color="#a1ff5e"/><stop offset="0.623" stop-color="#92ff6d"/><stop offset="0.6393" stop-color="#83ff7c"/><stop offset="0.6557" stop-color="#74ff8b"/><stop offset="0.6721" stop-color="#64ff9b"/><stop offset="0.6885" stop-color="#53ffac"/><stop offset="0.7049" stop-color="#42ffbd"/><stop offset="0.7213" stop-color="#31ffce"/><stop offset="0.7377" stop-color="#20ffdf"/><stop offset="0.7541" stop-color="#0ffff0"/><stop offset="0.7705" stop-color="#00feff"/><stop offset="0.7869" stop-color="#00efff"/><stop offset="0.8033" stop-color="#00e1ff"/><stop offset="0.8197" stop-color="#00d4ff"/><stop offset="0.8361" stop-color="#00c7ff"/><stop offset="0.8525" stop-color="#00baff"/><stop offset="0.8689" stop-color="#00acff"/><stop offset="0.8852" stop-color="#009eff"/><stop offset="0.9016" stop-color="#008fff"/><stop offset="0.918" stop-color="#007eff"/><stop offset="0.9344" stop-color="#006eff"/><stop offset="0.9508" stop-color="#0061ff"/><stop offset="0.9672" stop-color="#0058ff"/><stop offset="0.9836" stop-color="#0051ff"/><stop offset="1" stop-color="#004bff"/></linearGradient><linearGradient id="Dm2g" gradientUnits="userSpaceOnUse" x1="0" y1="257.40" x2="0" y2="289.10"><stop offset="0" stop-color="#fff" stop-opacity="0"/><stop offset="1" stop-color="#fff"/></linearGradient><mask id="Dm2" maskUnits="userSpaceOnUse" x="28.10" y="257.40" width="608.90" height="31.70"><rect x="28.10" y="257.40" width="608.90" height="31.70" fill="url(#Dm2g)"/></mask><linearGradient id="cbd" x1="0" y1="0" x2="0" y2="1"><stop offset="0" stop-color="#800000"/><stop offset="0.0625" stop-color="#bf0000"/><stop offset="0.125" stop-color="#ff0000"/><stop offset="0.1875" stop-color="#ff4000"/><stop offset="0.25" stop-color="#ff8000"/><stop offset="0.3125" stop-color="#ffbf00"/><stop offset="0.375" stop-color="#ffff00"/><stop offset="0.4375" stop-color="#bfff40"/><stop offset="0.5" stop-color="#80ff80"/><stop offset="0.5625" stop-color="#40ffbf"/><stop offset="0.625" stop-color="#00ffff"/><stop offset="0.6875" stop-color="#00bfff"/><stop offset="0.75" stop-color="#0080ff"/><stop offset="0.8125" stop-color="#0040ff"/><stop offset="0.875" stop-color="#0000ff"/><stop offset="0.9375" stop-color="#0000bf"/><stop offset="1" stop-color="#000080"/></linearGradient><linearGradient id="e0"><stop offset="0" stop-color="#c60000"/><stop offset="0.01639" stop-color="#cb0000"/><stop offset="0.03279" stop-color="#d00000"/><stop offset="0.04918" stop-color="#d70000"/><stop offset="0.06557" stop-color="#de0000"/><stop offset="0.08197" stop-color="#e60000"/><stop offset="0.09836" stop-color="#ee0000"/><stop offset="0.1148" stop-color="#f70000"/><stop offset="0.1311" stop-color="#ff0200"/><stop offset="0.1475" stop-color="#ff0c00"/><stop offset="0.1639" stop-color="#ff1800"/><stop offset="0.1803" stop-color="#ff2500"/><stop offset="0.1967" stop-color="#ff3300"/><stop offset="0.2131" stop-color="#ff4200"/><stop offset="0.2295" stop-color="#ff5100"/><stop offset="0.2459" stop-color="#ff6100"/><stop offset="0.2623" stop-color="#ff7200"/><stop offset="0.2787" stop-color="#ff8200"/><stop offset="0.2951" stop-color="#ff9500"/><stop offset="0.3115" stop-color="#ffaa00"/><stop offset="0.3279" stop-color="#ffc000"/><stop offset="0.3443" stop-color="#ffd600"/><stop offset="0.3607" stop-color="#ffeb00"/><stop offset="0.377" stop-color="#ffff00"/><stop offset="0.3934" stop-color="#eeff11"/><stop offset="0.4098" stop-color="#ddff22"/><stop offset="0.4262" stop-color="#cdff32"/><stop offset="0.4426" stop-color="#beff41"/><stop offset="0.459" stop-color="#afff50"/><stop offset="0.4754" stop-color="#a0ff5f"/><stop offset="0.4918" stop-color="#91ff6e"/><stop offset="0.5082" stop-color="#81ff7e"/><stop offset="0.5246" stop-color="#72ff8d"/><stop offset="0.541" stop-color="#63ff9c"/><stop offset="0.5574" stop-color="#54ffab"/><stop offset="0.5738" stop-color="#45ffba"/><stop offset="0.5902" stop-color="#36ffc9"/><stop offset="0.6066" stop-color="#26ffd9"/><stop offset="0.623" stop-color="#16ffe9"/><stop offset="0.6393" stop-color="#06fff9"/><stop offset="0.6557" stop-color="#00f3ff"/><stop offset="0.6721" stop-color="#00e1ff"/><stop offset="0.6885" stop-color="#00ceff"/><stop offset="0.7049" stop-color="#00baff"/><stop offset="0.7213" stop-color="#00a6ff"/><stop offset="0.7377" stop-color="#0092ff"/><stop offset="0.7541" stop-color="#007eff"/><stop offset="0.7705" stop-color="#006aff"/><stop offset="0.7869" stop-color="#0056ff"/><stop offset="0.8033" stop-color="#0041ff"/><stop offset="0.8197" stop-color="#002cff"/><stop offset="0.8361" stop-color="#0019ff"/><stop offset="0.8525" stop-color="#0007ff"/><stop offset="0.8689" stop-color="#0000f5"/><stop offset="0.8852" stop-color="#0000e5"/><stop offset="0.9016" stop-color="#0000d6"/><stop offset="0.918" stop-color="#0000c7"/><stop offset="0.9344" stop-color="#0000b8"/><stop offset="0.9508" stop-color="#0000ab"/><stop offset="0.9672" stop-color="#00009e"/><stop offset="0.9836" stop-color="#000092"/><stop offset="1" stop-color="#000087"/></linearGradient><linearGradient id="e1"><stop offset="0" stop-color="#9b0000"/><stop offset="0.01639" stop-color="#a50000"/><stop offset="0.03279" stop-color="#af0000"/><stop offset="0.04918" stop-color="#ba0000"/><stop offset="0.06557" stop-color="#c50000"/><stop offset="0.08197" stop-color="#d00000"/><stop offset="0.09836" stop-color="#dc0000"/><stop offset="0.1148" stop-color="#e80000"/><stop offset="0.1311" stop-color="#f40000"/><stop offset="0.1475" stop-color="#ff0100"/><stop offset="0.1639" stop-color="#ff0e00"/><stop offset="0.1803" stop-color="#ff1b00"/><stop offset="0.1967" stop-color="#ff2800"/><stop offset="0.2131" stop-color="#ff3600"/><stop offset="0.2295" stop-color="#ff4300"/><stop offset="0.2459" stop-color="#ff5200"/><stop offset="0.2623" stop-color="#ff6000"/><stop offset="0.2787" stop-color="#ff6f00"/><stop offset="0.2951" stop-color="#ff8000"/><stop offset="0.3115" stop-color="#ff9200"/><stop offset="0.3279" stop-color="#ffa500"/><stop offset="0.3443" stop-color="#ffba00"/><stop offset="0.3607" stop-color="#ffcf00"/><stop offset="0.377" stop-color="#ffe400"/><stop offset="0.3934" stop-color="#fff700"/><stop offset="0.4098" stop-color="#f4ff0b"/><stop offset="0.4262" stop-color="#e2ff1d"/><stop offset="0.4426" stop-color="#d1ff2e"/><stop offset="0.459" stop-color="#bfff40"/><stop offset="0.4754" stop-color="#afff50"/><stop offset="0.4918" stop-color="#9eff61"/><stop offset="0.5082" stop-color="#8dff72"/><stop offset="0.5246" stop-color="#7dff82"/><stop offset="0.541" stop-color="#6dff92"/><stop offset="0.5574" stop-color="#5dffa2"/><stop offset="0.5738" stop-color="#4effb1"/><stop offset="0.5902" stop-color="#3fffc0"/><stop offset="0.6066" stop-color="#30ffcf"/><stop offset="0.623" stop-color="#20ffdf"/><stop offset="0.6393" stop-color="#10ffef"/><stop offset="0.6557" stop-color="#00feff"/><stop offset="0.6721" stop-color="#00ecff"/><stop offset="0.6885" stop-color="#00d9ff"/><stop offset="0.7049" stop-color="#00c5ff"/><stop offset="0.7213" stop-color="#00b1ff"/><stop offset="0.7377" stop-color="#009dff"/><stop offset="0.7541" stop-color="#0089ff"/><stop offset="0.7705" stop-color="#0075ff"/><stop offset="0.7869" stop-color="#0061ff"/><stop offset="0.8033" stop-color="#004dff"/><stop offset="0.8197" stop-color="#0038ff"/><stop offset="0.8361" stop-color="#0025ff"/><stop offset="0.8525" stop-color="#0012ff"/><stop offset="0.8689" stop-color="#0001ff"/><stop offset="0.8852" stop-color="#0000f0"/><stop offset="0.9016" stop-color="#0000e0"/><stop offset="0.918" stop-color="#0000d1"/><stop offset="0.9344" stop-color="#0000c3"/><stop offset="0.9508" stop-color="#0000b5"/><stop offset="0.9672" stop-color="#0000a9"/><stop offset="0.9836" stop-color="#00009c"/><stop offset="1" stop-color="#000091"/></linearGradient><linearGradient id="em1g" gradientUnits="userSpaceOnUse" x1="0" y1="336.80" x2="0" y2="349.40"><stop offset="0" stop-color="#fff" stop-opacity="0"/><stop offset="1" stop-color="#fff"/></linearGradient><mask id="em1" maskUnits="userSpaceOnUse" x="28.10" y="336.80" width="608.90" height="63.00"><rect x="28.10" y="336.80" width="608.90" height="63.00" fill="url(#em1g)"/></mask><linearGradient id="e2"><stop offset="0" stop-color="#830000"/><stop offset="0.01639" stop-color="#900000"/><stop offset="0.03279" stop-color="#9d0000"/><stop offset="0.04918" stop-color="#aa0000"/><stop offset="0.06557" stop-color="#b70000"/><stop offset="0.08197" stop-color="#c40000"/><stop offset="0.09836" stop-color="#d20000"/><stop offset="0.1148" stop-color="#df0000"/><stop offset="0.1311" stop-color="#ec0000"/><stop offset="0.1475" stop-color="#f90000"/><stop offset="0.1639" stop-color="#ff0800"/><stop offset="0.1803" stop-color="#ff1500"/><stop offset="0.1967" stop-color="#ff2200"/><stop offset="0.2131" stop-color="#ff2e00"/><stop offset="0.2295" stop-color="#ff3b00"/><stop offset="0.2459" stop-color="#ff4800"/><stop offset="0.2623" stop-color="#ff5500"/><stop offset="0.2787" stop-color="#ff6300"/><stop offset="0.2951" stop-color="#ff7200"/><stop offset="0.3115" stop-color="#ff8300"/><stop offset="0.3279" stop-color="#ff9500"/><stop offset="0.3443" stop-color="#ffa900"/><stop offset="0.3607" stop-color="#ffbe00"/><stop offset="0.377" stop-color="#ffd300"/><stop offset="0.3934" stop-color="#ffe900"/><stop offset="0.4098" stop-color="#fffd00"/><stop offset="0.4262" stop-color="#eeff11"/><stop offset="0.4426" stop-color="#dcff23"/><stop offset="0.459" stop-color="#caff35"/><stop offset="0.4754" stop-color="#b8ff47"/><stop offset="0.4918" stop-color="#a6ff59"/><stop offset="0.5082" stop-color="#95ff6a"/><stop offset="0.5246" stop-color="#84ff7b"/><stop offset="0.541" stop-color="#74ff8b"/><stop offset="0.5574" stop-color="#64ff9b"/><stop offset="0.5738" stop-color="#55ffaa"/><stop offset="0.5902" stop-color="#46ffb9"/><stop offset="0.6066" stop-color="#37ffc8"/><stop offset="0.623" stop-color="#27ffd8"/><stop offset="0.6393" stop-color="#18ffe7"/><stop offset="0.6557" stop-color="#07fff8"/><stop offset="0.6721" stop-color="#00f5ff"/><stop offset="0.6885" stop-color="#00e2ff"/><stop offset="0.7049" stop-color="#00cfff"/><stop offset="0.7213" stop-color="#00bbff"/><stop offset="0.7377" stop-color="#00a7ff"/><stop offset="0.7541" stop-color="#0093ff"/><stop offset="0.7705" stop-color="#007fff"/><stop offset="0.7869" stop-color="#006bff"/><stop offset="0.8033" stop-color="#0057ff"/><stop offset="0.8197" stop-color="#0043ff"/><stop offset="0.8361" stop-color="#002fff"/><stop offset="0.8525" stop-color="#001cff"/><stop offset="0.8689" stop-color="#000aff"/><stop offset="0.8852" stop-color="#0000f9"/><stop offset="0.9016" stop-color="#0000ea"/><stop offset="0.918" stop-color="#0000db"/><stop offset="0.9344" stop-color="#0000cd"/><stop offset="0.9508" stop-color="#0000c0"/><stop offset="0.9672" stop-color="#0000b3"/><stop offset="0.9836" stop-color="#0000a7"/><stop offset="1" stop-color="#00009d"/></linearGradient><linearGradient id="em2g" gradientUnits="userSpaceOnUse" x1="0" y1="349.40" x2="0" y2="362.00"><stop offset="0" stop-color="#fff" stop-opacity="0"/><stop offset="1" stop-color="#fff"/></linearGradient><mask id="em2" maskUnits="userSpaceOnUse" x="28.10" y="349.40" width="608.90" height="50.40"><rect x="28.10" y="349.40" width="608.90" height="50.40" fill="url(#em2g)"/></mask><linearGradient id="e3"><stop offset="0" stop-color="#800000"/><stop offset="0.01639" stop-color="#8c0000"/><stop offset="0.03279" stop-color="#9a0000"/><stop offset="0.04918" stop-color="#a70000"/><stop offset="0.06557" stop-color="#b50000"/><stop offset="0.08197" stop-color="#c20000"/><stop offset="0.09836" stop-color="#cf0000"/><stop offset="0.1148" stop-color="#dd0000"/><stop offset="0.1311" stop-color="#ea0000"/><stop offset="0.1475" stop-color="#f80000"/><stop offset="0.1639" stop-color="#ff0600"/><stop offset="0.1803" stop-color="#ff1300"/><stop offset="0.1967" stop-color="#ff1f00"/><stop offset="0.2131" stop-color="#ff2b00"/><stop offset="0.2295" stop-color="#ff3800"/><stop offset="0.2459" stop-color="#ff4400"/><stop offset="0.2623" stop-color="#ff5100"/><stop offset="0.2787" stop-color="#ff5f00"/><stop offset="0.2951" stop-color="#ff6d00"/><stop offset="0.3115" stop-color="#ff7d00"/><stop offset="0.3279" stop-color="#ff8f00"/><stop offset="0.3443" stop-color="#ffa300"/><stop offset="0.3607" stop-color="#ffb800"/><stop offset="0.377" stop-color="#ffce00"/><stop offset="0.3934" stop-color="#ffe400"/><stop offset="0.4098" stop-color="#fff900"/><stop offset="0.4262" stop-color="#f2ff0d"/><stop offset="0.4426" stop-color="#e0ff1f"/><stop offset="0.459" stop-color="#cdff32"/><stop offset="0.4754" stop-color="#bbff44"/><stop offset="0.4918" stop-color="#aaff55"/><stop offset="0.5082" stop-color="#99ff66"/><stop offset="0.5246" stop-color="#88ff77"/><stop offset="0.541" stop-color="#77ff88"/><stop offset="0.5574" stop-color="#67ff98"/><stop offset="0.5738" stop-color="#58ffa7"/><stop offset="0.5902" stop-color="#49ffb6"/><stop offset="0.6066" stop-color="#3bffc4"/><stop offset="0.623" stop-color="#2cffd3"/><stop offset="0.6393" stop-color="#1dffe2"/><stop offset="0.6557" stop-color="#0dfff2"/><stop offset="0.6721" stop-color="#00fbff"/><stop offset="0.6885" stop-color="#00e8ff"/><stop offset="0.7049" stop-color="#00d6ff"/><stop offset="0.7213" stop-color="#00c2ff"/><stop offset="0.7377" stop-color="#00aeff"/><stop offset="0.7541" stop-color="#009aff"/><stop offset="0.7705" stop-color="#0087ff"/><stop offset="0.7869" stop-color="#0073ff"/><stop offset="0.8033" stop-color="#0060ff"/><stop offset="0.8197" stop-color="#004bff"/><stop offset="0.8361" stop-color="#0038ff"/><stop offset="0.8525" stop-color="#0024ff"/><stop offset="0.8689" stop-color="#0012ff"/><stop offset="0.8852" stop-color="#0002ff"/><stop offset="0.9016" stop-color="#0000f2"/><stop offset="0.918" stop-color="#0000e4"/><stop offset="0.9344" stop-color="#0000d6"/><stop offset="0.9508" stop-color="#0000ca"/><stop offset="0.9672" stop-color="#0000be"/><stop offset="0.9836" stop-color="#0000b3"/><stop offset="1" stop-color="#0000a9"/></linearGradient><linearGradient id="em3g" gradientUnits="userSpaceOnUse" x1="0" y1="362.00" x2="0" y2="374.60"><stop offset="0" stop-color="#fff" stop-opacity="0"/><stop offset="1" stop-color="#fff"/></linearGradient><mask id="em3" maskUnits="userSpaceOnUse" x="28.10" y="362.00" width="608.90" height="37.80"><rect x="28.10" y="362.00" width="608.90" height="37.80" fill="url(#em3g)"/></mask><linearGradient id="e4"><stop offset="0" stop-color="#8e0000"/><stop offset="0.01639" stop-color="#9a0000"/><stop offset="0.03279" stop-color="#a50000"/><stop offset="0.04918" stop-color="#b10000"/><stop offset="0.06557" stop-color="#bd0000"/><stop offset="0.08197" stop-color="#c90000"/><stop offset="0.09836" stop-color="#d50000"/><stop offset="0.1148" stop-color="#e10000"/><stop offset="0.1311" stop-color="#ee0000"/><stop offset="0.1475" stop-color="#fa0000"/><stop offset="0.1639" stop-color="#ff0800"/><stop offset="0.1803" stop-color="#ff1400"/><stop offset="0.1967" stop-color="#ff2000"/><stop offset="0.2131" stop-color="#ff2d00"/><stop offset="0.2295" stop-color="#ff3900"/><stop offset="0.2459" stop-color="#ff4600"/><stop offset="0.2623" stop-color="#ff5400"/><stop offset="0.2787" stop-color="#ff6200"/><stop offset="0.2951" stop-color="#ff7100"/><stop offset="0.3115" stop-color="#ff8100"/><stop offset="0.3279" stop-color="#ff9300"/><stop offset="0.3443" stop-color="#ffa800"/><stop offset="0.3607" stop-color="#ffbd00"/><stop offset="0.377" stop-color="#ffd300"/><stop offset="0.3934" stop-color="#ffe900"/><stop offset="0.4098" stop-color="#fffd00"/><stop offset="0.4262" stop-color="#eeff11"/><stop offset="0.4426" stop-color="#dcff23"/><stop offset="0.459" stop-color="#caff35"/><stop offset="0.4754" stop-color="#b9ff46"/><stop offset="0.4918" stop-color="#a8ff57"/><stop offset="0.5082" stop-color="#97ff68"/><stop offset="0.5246" stop-color="#87ff78"/><stop offset="0.541" stop-color="#77ff88"/><stop offset="0.5574" stop-color="#68ff97"/><stop offset="0.5738" stop-color="#59ffa6"/><stop offset="0.5902" stop-color="#4affb5"/><stop offset="0.6066" stop-color="#3cffc3"/><stop offset="0.623" stop-color="#2effd1"/><stop offset="0.6393" stop-color="#1fffe0"/><stop offset="0.6557" stop-color="#0ffff0"/><stop offset="0.6721" stop-color="#00feff"/><stop offset="0.6885" stop-color="#00ecff"/><stop offset="0.7049" stop-color="#00daff"/><stop offset="0.7213" stop-color="#00c7ff"/><stop offset="0.7377" stop-color="#00b3ff"/><stop offset="0.7541" stop-color="#00a0ff"/><stop offset="0.7705" stop-color="#008dff"/><stop offset="0.7869" stop-color="#007aff"/><stop offset="0.8033" stop-color="#0066ff"/><stop offset="0.8197" stop-color="#0053ff"/><stop offset="0.8361" stop-color="#003fff"/><stop offset="0.8525" stop-color="#002bff"/><stop offset="0.8689" stop-color="#0019ff"/><stop offset="0.8852" stop-color="#0008ff"/><stop offset="0.9016" stop-color="#0000f9"/><stop offset="0.918" stop-color="#0000ec"/><stop offset="0.9344" stop-color="#0000df"/><stop offset="0.9508" stop-color="#0000d3"/><stop offset="0.9672" stop-color="#0000c9"/><stop offset="0.9836" stop-color="#0000bf"/><stop offset="1" stop-color="#0000b7"/></linearGradient><linearGradient id="em4g" gradientUnits="userSpaceOnUse" x1="0" y1="374.60" x2="0" y2="387.20"><stop offset="0" stop-color="#fff" stop-opacity="0"/><stop offset="1" stop-color="#fff"/></linearGradient><mask id="em4" maskUnits="userSpaceOnUse" x="28.10" y="374.60" width="608.90" height="25.20"><rect x="28.10" y="374.60" width="608.90" height="25.20" fill="url(#em4g)"/></mask><linearGradient id="e5"><stop offset="0" stop-color="#b20000"/><stop offset="0.01639" stop-color="#b90000"/><stop offset="0.03279" stop-color="#c00000"/><stop offset="0.04918" stop-color="#c80000"/><stop offset="0.06557" stop-color="#d10000"/><stop offset="0.08197" stop-color="#da0000"/><stop offset="0.09836" stop-color="#e30000"/><stop offset="0.1148" stop-color="#ed0000"/><stop offset="0.1311" stop-color="#f70000"/><stop offset="0.1475" stop-color="#ff0300"/><stop offset="0.1639" stop-color="#ff0e00"/><stop offset="0.1803" stop-color="#ff1a00"/><stop offset="0.1967" stop-color="#ff2600"/><stop offset="0.2131" stop-color="#ff3300"/><stop offset="0.2295" stop-color="#ff4000"/><stop offset="0.2459" stop-color="#ff4e00"/><stop offset="0.2623" stop-color="#ff5d00"/><stop offset="0.2787" stop-color="#ff6d00"/><stop offset="0.2951" stop-color="#ff7d00"/><stop offset="0.3115" stop-color="#ff8e00"/><stop offset="0.3279" stop-color="#ffa200"/><stop offset="0.3443" stop-color="#ffb800"/><stop offset="0.3607" stop-color="#ffce00"/><stop offset="0.377" stop-color="#ffe400"/><stop offset="0.3934" stop-color="#fff800"/><stop offset="0.4098" stop-color="#f4ff0b"/><stop offset="0.4262" stop-color="#e2ff1d"/><stop offset="0.4426" stop-color="#d1ff2e"/><stop offset="0.459" stop-color="#c1ff3e"/><stop offset="0.4754" stop-color="#b1ff4e"/><stop offset="0.4918" stop-color="#a1ff5e"/><stop offset="0.5082" stop-color="#92ff6d"/><stop offset="0.5246" stop-color="#82ff7d"/><stop offset="0.541" stop-color="#73ff8c"/><stop offset="0.5574" stop-color="#65ff9a"/><stop offset="0.5738" stop-color="#57ffa8"/><stop offset="0.5902" stop-color="#49ffb6"/><stop offset="0.6066" stop-color="#3bffc4"/><stop offset="0.623" stop-color="#2dffd2"/><stop offset="0.6393" stop-color="#1effe1"/><stop offset="0.6557" stop-color="#0ffff0"/><stop offset="0.6721" stop-color="#00feff"/><stop offset="0.6885" stop-color="#00edff"/><stop offset="0.7049" stop-color="#00dcff"/><stop offset="0.7213" stop-color="#00c9ff"/><stop offset="0.7377" stop-color="#00b7ff"/><stop offset="0.7541" stop-color="#00a4ff"/><stop offset="0.7705" stop-color="#0091ff"/><stop offset="0.7869" stop-color="#007fff"/><stop offset="0.8033" stop-color="#006cff"/><stop offset="0.8197" stop-color="#0058ff"/><stop offset="0.8361" stop-color="#0044ff"/><stop offset="0.8525" stop-color="#0030ff"/><stop offset="0.8689" stop-color="#001eff"/><stop offset="0.8852" stop-color="#000dff"/><stop offset="0.9016" stop-color="#0000ff"/><stop offset="0.918" stop-color="#0000f2"/><stop offset="0.9344" stop-color="#0000e7"/><stop offset="0.9508" stop-color="#0000dd"/><stop offset="0.9672" stop-color="#0000d4"/><stop offset="0.9836" stop-color="#0000cc"/><stop offset="1" stop-color="#0000c6"/></linearGradient><linearGradient id="em5g" gradientUnits="userSpaceOnUse" x1="0" y1="387.20" x2="0" y2="399.80"><stop offset="0" stop-color="#fff" stop-opacity="0"/><stop offset="1" stop-color="#fff"/></linearGradient><mask id="em5" maskUnits="userSpaceOnUse" x="28.10" y="387.20" width="608.90" height="12.60"><rect x="28.10" y="387.20" width="608.90" height="12.60" fill="url(#em5g)"/></mask><linearGradient id="cbe" x1="0" y1="0" x2="0" y2="1"><stop offset="0" stop-color="#800000"/><stop offset="0.0625" stop-color="#bf0000"/><stop offset="0.125" stop-color="#ff0000"/><stop offset="0.1875" stop-color="#ff4000"/><stop offset="0.25" stop-color="#ff8000"/><stop offset="0.3125" stop-color="#ffbf00"/><stop offset="0.375" stop-color="#ffff00"/><stop offset="0.4375" stop-color="#bfff40"/><stop offset="0.5" stop-color="#80ff80"/><stop offset="0.5625" stop-color="#40ffbf"/><stop offset="0.625" stop-color="#00ffff"/><stop offset="0.6875" stop-color="#00bfff"/><stop offset="0.75" stop-color="#0080ff"/><stop offset="0.8125" stop-color="#0040ff"/><stop offset="0.875" stop-color="#0000ff"/><stop offset="0.9375" stop-color="#0000bf"/><stop offset="1" stop-color="#000080"/></linearGradient></defs><rect width="725" height="439" fill="#fff"/><g><rect x="30.20" y="12.80" width="278.60" height="57.50" fill="url(#a0)"/><rect x="30.20" y="12.80" width="278.60" height="57.50" fill="url(#a1)" mask="url(#am1)"/><rect x="30.20" y="18.55" width="278.60" height="51.75" fill="url(#a2)" mask="url(#am2)"/><rect x="30.20" y="24.30" width="278.60" height="46.00" fill="url(#a3)" mask="url(#am3)"/><rect x="30.20" y="30.05" width="278.60" height="40.25" fill="url(#a4)" mask="url(#am4)"/><rect x="30.20" y="35.80" width="278.60" height="34.50" fill="url(#a5)" mask="url(#am5)"/><rect x="30.20" y="41.55" width="278.60" height="28.75" fill="url(#a6)" mask="url(#am6)"/><rect x="30.20" y="47.30" width="278.60" height="23.00" fill="url(#a7)" mask="url(#am7)"/><rect x="30.20" y="53.05" width="278.60" height="17.25" fill="url(#a8)" mask="url(#am8)"/><rect x="30.20" y="58.80" width="278.60" height="11.50" fill="url(#a9)" mask="url(#am9)"/><rect x="30.20" y="64.55" width="278.60" height="5.75" fill="url(#a10)" mask="url(#am10)"/></g>
<g mask="url(#mska)"><rect x="30.20" y="12.80" width="278.60" height="57.50" fill="url(#A0)"/><rect x="30.20" y="12.80" width="278.60" height="57.50" fill="url(#A1)" mask="url(#Am1)"/><rect x="30.20" y="18.55" width="278.60" height="51.75" fill="url(#A2)" mask="url(#Am2)"/><rect x="30.20" y="24.30" width="278.60" height="46.00" fill="url(#A3)" mask="url(#Am3)"/><rect x="30.20" y="58.80" width="278.60" height="11.50" fill="url(#A4)" mask="url(#Am4)"/><rect x="30.20" y="64.55" width="278.60" height="5.75" fill="url(#A5)" mask="url(#Am5)"/></g>
<rect x="30.2" y="12.8" width="278.6" height="57.5" fill="none" stroke="#1a1a1a" stroke-width="0.8"/>
<rect x="121.2" y="8.9" width="3.5" height="3.9" fill="#21c08e" stroke="#1d5a48" stroke-width="0.7"/>
<rect x="213.2" y="70.3" width="3.5" height="4.1" fill="#21c08e" stroke="#1d5a48" stroke-width="0.7"/>
<rect x="27.1" y="5.6" width="284.7" height="71.2" fill="none" stroke="#262626" stroke-width="1"/>
<path d="M30.2 76.8v-2.8M30.2 5.6v2.8M90.0 76.8v-2.8M90.0 5.6v2.8M149.8 76.8v-2.8M149.8 5.6v2.8M209.6 76.8v-2.8M209.6 5.6v2.8M269.4 76.8v-2.8M269.4 5.6v2.8M27.1 69.6h2.8M311.8 69.6h-2.8M27.1 51.4h2.8M311.8 51.4h-2.8M27.1 33.2h2.8M311.8 33.2h-2.8M27.1 15.0h2.8M311.8 15.0h-2.8" stroke="#262626" stroke-width="0.9" fill="none"/>
<text x="30.2" y="90.9" font-size="12.5" text-anchor="middle" >0</text>
<text x="90.0" y="90.9" font-size="12.5" text-anchor="middle" >20</text>
<text x="149.8" y="90.9" font-size="12.5" text-anchor="middle" >40</text>
<text x="209.6" y="90.9" font-size="12.5" text-anchor="middle" >60</text>
<text x="269.4" y="90.9" font-size="12.5" text-anchor="middle" >80</text>
<text x="24.3" y="73.9" font-size="12.5" text-anchor="end" >0</text>
<text x="24.3" y="55.7" font-size="12.5" text-anchor="end" >2</text>
<text x="24.3" y="37.5" font-size="12.5" text-anchor="end" >4</text>
<text x="24.3" y="19.3" font-size="12.5" text-anchor="end" >6</text>
<text transform="translate(11.7,41.3) rotate(-90)" font-size="15.5" text-anchor="middle" word-spacing="2" lengthAdjust="spacingAndGlyphs" textLength="45.5">h / cm</text>
<text x="6.0" y="92.6" font-size="16" text-anchor="start" lengthAdjust="spacingAndGlyphs" textLength="13.2">a)</text>
<text x="169.0" y="108.3" font-size="16" text-anchor="middle" word-spacing="1.5" lengthAdjust="spacingAndGlyphs" textLength="48.5">w / cm</text>
<rect x="323" y="5.6" width="18.69999999999999" height="71.2" fill="url(#cba)" stroke="#262626" stroke-width="0.9"/>
<text x="348.6" y="22.6" font-size="12.5" text-anchor="start" >62</text>
<text x="348.6" y="39.6" font-size="12.5" text-anchor="start" >60</text>
<text x="348.6" y="56.7" font-size="12.5" text-anchor="start" >58</text>
<text x="348.6" y="73.8" font-size="12.5" text-anchor="start" >56</text>
<rect x="29.9" y="116.2" width="278.90000000000003" height="3.7" fill="#dadada" stroke="#1a1a1a" stroke-width="0.55"/>
<rect x="29.9" y="176.4" width="278.90000000000003" height="3.6" fill="#f6c4a0" stroke="#1a1a1a" stroke-width="0.7"/>
<g><rect x="29.90" y="120.60" width="278.90" height="55.80" fill="url(#b0)"/><rect x="29.90" y="120.60" width="278.90" height="55.80" fill="url(#b1)" mask="url(#bm1)"/><rect x="29.90" y="131.76" width="278.90" height="44.64" fill="url(#b2)" mask="url(#bm2)"/><rect x="29.90" y="142.92" width="278.90" height="33.48" fill="url(#b3)" mask="url(#bm3)"/><rect x="29.90" y="154.08" width="278.90" height="22.32" fill="url(#b4)" mask="url(#bm4)"/><rect x="29.90" y="165.24" width="278.90" height="11.16" fill="url(#b5)" mask="url(#bm5)"/></g>
<rect x="29.9" y="120.6" width="278.90000000000003" height="55.80000000000001" fill="none" stroke="#1a1a1a" stroke-width="0.8"/>
<rect x="27.1" y="113.5" width="284.7" height="69.5" fill="none" stroke="#262626" stroke-width="1"/>
<path d="M30.2 183.0v-2.8M30.2 113.5v2.8M90.0 183.0v-2.8M90.0 113.5v2.8M149.8 183.0v-2.8M149.8 113.5v2.8M209.6 183.0v-2.8M209.6 113.5v2.8M269.4 183.0v-2.8M269.4 113.5v2.8M27.1 175.9h2.8M311.8 175.9h-2.8M27.1 158.0h2.8M311.8 158.0h-2.8M27.1 140.1h2.8M311.8 140.1h-2.8M27.1 122.2h2.8M311.8 122.2h-2.8" stroke="#262626" stroke-width="0.9" fill="none"/>
<text x="30.2" y="197.6" font-size="12.5" text-anchor="middle" >0</text>
<text x="90.0" y="197.6" font-size="12.5" text-anchor="middle" >20</text>
<text x="149.8" y="197.6" font-size="12.5" text-anchor="middle" >40</text>
<text x="209.6" y="197.6" font-size="12.5" text-anchor="middle" >60</text>
<text x="269.4" y="197.6" font-size="12.5" text-anchor="middle" >80</text>
<text x="24.3" y="180.2" font-size="12.5" text-anchor="end" >0</text>
<text x="24.3" y="162.3" font-size="12.5" text-anchor="end" >2</text>
<text x="24.3" y="144.4" font-size="12.5" text-anchor="end" >4</text>
<text x="24.3" y="126.5" font-size="12.5" text-anchor="end" >6</text>
<text transform="translate(11.7,148.4) rotate(-90)" font-size="15.5" text-anchor="middle" word-spacing="2" lengthAdjust="spacingAndGlyphs" textLength="45.5">h / cm</text>
<text x="6.0" y="113.2" font-size="16" text-anchor="start" lengthAdjust="spacingAndGlyphs" textLength="13.6">b)</text>
<text x="169.0" y="214.5" font-size="16" text-anchor="middle" word-spacing="1.5" lengthAdjust="spacingAndGlyphs" textLength="48.5">w / cm</text>
<rect x="323" y="113.4" width="18.69999999999999" height="69.9" fill="url(#cbb)" stroke="#262626" stroke-width="0.9"/>
<text x="348.6" y="126.3" font-size="12.5" text-anchor="start" >54</text>
<text x="348.6" y="145.8" font-size="12.5" text-anchor="start" >52</text>
<text x="348.6" y="165.8" font-size="12.5" text-anchor="start" >50</text>
<text x="348.6" y="185.1" font-size="12.5" text-anchor="start" >48</text>
<text transform="translate(379.0,89.5) rotate(-90)" font-size="14" text-anchor="middle" word-spacing="1" lengthAdjust="spacingAndGlyphs" textLength="147">Temperature at EoC / °C</text>
<rect x="433.2" y="142.6" width="284.7" height="40.7" fill="#e6e6e6"/>
<path d="M504.4 5.6V183.3M575.6 5.6V183.3M646.7 5.6V183.3M433.2 170.0H717.9M433.2 142.6H717.9M433.2 115.2H717.9M433.2 87.8H717.9M433.2 60.4H717.9M433.2 33.0H717.9" stroke="#000" stroke-opacity="0.12" stroke-width="0.8" fill="none"/>
<clipPath id="clipc"><rect x="433.2" y="5.6" width="284.7" height="177.7"/></clipPath><g clip-path="url(#clipc)">
<path d="M465.6 0.4L467.2 2.2L468.8 4.1L470.6 5.9L472.4 7.6L474.3 9.4L476.2 11.1L478.1 12.8L480.1 14.5L482.1 16.2L484.1 17.9L486.1 19.5L488.2 21.1L490.3 22.6L492.5 24.1L494.6 25.5L496.8 26.9L499.1 28.2L501.3 29.4L503.6 30.6L505.9 31.8L508.2 32.9L510.4 34.1L512.7 35.3L515.0 36.5L517.3 37.7L519.6 38.9L521.8 40.2L524.1 41.5L526.3 42.8L528.5 44.1L530.8 45.4L533.0 46.8L535.3 48.1L537.5 49.4L539.8 50.6L542.1 51.9L544.3 53.1L546.6 54.3L549.0 55.4L551.3 56.5L553.7 57.5L556.0 58.5L558.4 59.5L560.8 60.4L563.3 61.3L565.7 62.1L568.2 62.9L570.6 63.7L573.1 64.5L575.6 65.2L578.1 65.9L580.6 66.6L583.1 67.3L585.6 68.0L588.1 68.7L590.6 69.3L593.1 70.0L595.6 70.7L598.1 71.4L598.1 105.6L594.7 104.9L591.3 104.3L587.9 103.7L584.5 103.2L581.1 102.6L577.7 102.1L574.2 101.5L570.8 101.0L567.4 100.4L563.9 99.9L560.5 99.3L557.0 98.7L553.6 98.1L550.1 97.5L546.7 96.8L543.3 96.1L539.9 95.3L536.4 94.6L533.1 93.7L529.7 92.9L526.3 92.0L523.0 91.0L519.6 90.0L516.3 88.9L513.1 87.7L509.8 86.5L506.6 85.2L503.4 83.8L500.2 82.3L497.1 80.8L494.0 79.2L491.0 77.5L488.0 75.7L485.0 73.8L482.2 71.8L479.4 69.7L476.7 67.6L474.1 65.3L471.6 63.0L469.1 60.5L466.8 58.0L464.6 55.4L462.6 52.7L460.6 49.9L458.7 47.0L457.0 44.0L455.4 41.0L454.0 37.9L452.6 34.7L451.4 31.4L450.4 28.1L449.5 24.8L448.7 21.3L448.1 17.8L447.6 14.3L447.3 10.7L447.2 7.1L447.2 3.5L447.3 -0.2Z" fill="#ff0000" fill-opacity="0.8" stroke="#000" stroke-opacity="0.8" stroke-width="0.6" stroke-linejoin="round"/>
<path d="M451.6 -0.3L452.6 5.0L453.8 10.1L455.3 15.0L457.0 19.8L459.0 24.5L461.2 29.0L463.6 33.3L466.2 37.5L469.0 41.5L472.0 45.4L475.2 49.2L478.5 52.8L482.0 56.3L485.7 59.6L489.5 62.8L493.5 65.8L497.5 68.8L501.7 71.6L506.0 74.2L510.3 76.7L514.8 79.1L519.3 81.4L523.9 83.6L528.6 85.6L533.3 87.5L538.0 89.3L542.8 91.0L547.5 92.5L552.3 93.9L557.2 95.3L562.0 96.5L566.8 97.7L571.7 98.8L576.6 99.8L581.5 100.7L586.4 101.6L591.3 102.4L596.3 103.2L601.2 103.9L606.2 104.6L611.2 105.3L616.1 105.9L621.1 106.5L626.1 107.1L631.1 107.7L636.1 108.3L641.1 109.0L646.1 109.6L651.0 110.3L656.0 111.0L660.9 111.9L665.8 112.9L670.6 114.1L675.4 115.4L680.1 117.1L684.7 119.0L689.1 121.1L693.5 123.7L697.4 127.0L697.4 148.7L692.8 145.9L688.0 143.6L683.1 141.5L678.1 139.6L673.1 137.9L668.0 136.3L662.8 134.8L657.6 133.5L652.4 132.2L647.2 131.1L641.9 130.0L636.6 129.0L631.3 128.0L626.0 127.0L620.7 126.0L615.5 125.0L610.2 124.0L604.9 122.9L599.7 121.8L594.5 120.6L589.2 119.5L584.0 118.3L578.8 117.1L573.6 115.8L568.4 114.5L563.2 113.2L558.1 111.9L552.9 110.6L547.7 109.2L542.5 107.8L537.3 106.4L532.0 105.0L526.8 103.5L521.6 102.0L516.5 100.3L511.6 98.3L507.0 95.8L502.7 92.8L498.6 89.4L494.7 85.7L491.0 81.9L487.3 77.9L483.7 73.9L480.0 70.0L476.2 66.2L472.4 62.5L468.7 58.8L465.1 54.9L461.8 50.8L458.9 46.4L456.3 41.8L454.1 37.0L452.1 32.0L450.5 26.8L449.2 21.6L448.2 16.2L447.5 10.8L447.1 5.4L447.0 -0.0Z" fill="#ff0000" fill-opacity="0.2" stroke="#000" stroke-opacity="0.55" stroke-width="0.6" stroke-linejoin="round"/>
<path d="M461.9 0.2L463.2 2.8L464.6 5.4L466.0 7.9L467.5 10.4L469.0 12.8L470.6 15.2L472.2 17.6L473.9 19.9L475.6 22.3L477.3 24.5L479.1 26.8L480.9 29.0L482.8 31.2L484.7 33.3L486.6 35.4L488.6 37.5L490.6 39.5L492.6 41.6L494.7 43.5L496.8 45.5L499.0 47.4L501.2 49.3L503.4 51.1L505.6 52.9L507.9 54.7L510.2 56.4L512.5 58.2L514.8 59.8L517.2 61.5L519.6 63.1L522.0 64.7L524.4 66.2L526.9 67.7L529.4 69.2L531.9 70.7L534.4 72.1L537.0 73.5L539.5 74.8L542.1 76.2L544.7 77.4L547.3 78.7L549.9 79.9L552.6 81.1L555.2 82.3L557.9 83.4L560.6 84.5L563.3 85.5L565.9 86.6L568.7 87.6L571.4 88.5L574.1 89.5L576.8 90.4L579.5 91.2L582.3 92.1L585.0 92.9L587.7 93.6L590.5 94.4L593.2 95.1L596.1 95.8L596.1 120.1L592.8 119.1L589.5 118.1L586.1 117.2L582.8 116.3L579.4 115.5L575.9 114.7L572.5 114.0L569.0 113.3L565.5 112.6L561.9 111.9L558.4 111.2L554.9 110.5L551.3 109.8L547.8 109.0L544.3 108.3L540.8 107.5L537.3 106.6L533.9 105.7L530.5 104.8L527.1 103.7L523.8 102.6L520.5 101.4L517.3 100.1L514.1 98.7L511.0 97.2L507.9 95.5L505.0 93.8L502.1 91.9L499.3 89.8L496.6 87.6L493.9 85.3L491.3 82.9L488.8 80.4L486.3 77.8L483.9 75.2L481.6 72.5L479.3 69.7L477.0 66.9L474.8 64.1L472.6 61.2L470.5 58.4L468.4 55.5L466.3 52.7L464.3 49.8L462.4 46.9L460.6 43.9L458.9 40.9L457.3 37.8L455.9 34.7L454.6 31.5L453.4 28.2L452.4 24.9L451.5 21.5L450.8 18.0L450.1 14.5L449.6 10.9L449.3 7.2L449.0 3.6L448.9 -0.2Z" fill="#00ff00" fill-opacity="0.8" stroke="#000" stroke-opacity="0.8" stroke-width="0.6" stroke-linejoin="round"/>
<path d="M451.5 0.0L451.8 1.8L452.1 3.6L452.4 5.4L452.7 7.2L453.0 9.1L453.3 10.9L453.6 12.7L453.9 14.6L454.2 16.4L454.5 18.3L454.8 20.1L455.1 22.0L455.5 23.8L455.9 25.6L456.3 27.5L456.7 29.3L457.2 31.1L457.7 32.9L458.2 34.6L458.8 36.4L459.4 38.1L460.1 39.8L460.8 41.5L461.6 43.2L462.4 44.8L463.2 46.4L464.1 48.0L465.0 49.6L466.0 51.1L467.1 52.6L468.1 54.1L469.2 55.6L470.3 57.1L471.4 58.6L472.6 60.0L473.7 61.5L474.8 63.0L475.9 64.5L477.0 66.0L478.1 67.5L479.2 69.0L480.3 70.5L481.4 72.0L482.5 73.5L483.6 75.0L484.7 76.5L485.8 78.0L486.9 79.4" fill="none" stroke="#0a1a0a" stroke-opacity="0.95" stroke-width="1.25" stroke-linejoin="round"/>
<path d="M485.8 77.4L486.9 78.9L488.1 80.3L489.2 81.8L490.4 83.2L491.6 84.7L492.7 86.1L493.9 87.5L495.2 88.9L496.4 90.2L497.7 91.5L499.0 92.8L500.3 94.1L501.7 95.3L503.0 96.5L504.4 97.7L505.9 98.8L507.3 99.8L508.9 100.9L510.4 101.8L511.9 102.8L513.5 103.7L515.1 104.6L516.7 105.5L518.3 106.4L520.0 107.3L521.6 108.1L523.2 109.0L524.8 109.9L526.5 110.7L528.1 111.5L529.8 112.4L531.4 113.2L533.1 114.0L534.7 114.8L536.4 115.7L538.0 116.5L539.7 117.3L541.4 118.1L543.0 118.9L544.7 119.7L546.4 120.5L548.0 121.2L549.7 122.0L551.4 122.8L553.0 123.6L554.7 124.3L556.4 125.1L558.1 125.8L559.8 126.6L561.4 127.3L563.1 128.1L564.8 128.8L566.5 129.5L568.2 130.2L569.9 130.9L571.6 131.6L573.3 132.3L575.0 132.9L576.7 133.5L578.4 134.2L580.2 134.8L581.9 135.4L583.6 136.0L585.3 136.6L587.1 137.1L588.8 137.7L590.5 138.2L592.3 138.8L594.0 139.3L595.8 139.8L597.6 140.3L599.3 140.8L601.1 141.3L602.9 141.7L604.6 142.1L606.4 142.6L608.2 143.0L610.0 143.4L611.8 143.7L613.6 144.1L615.4 144.4L617.3 144.7L619.1 145.0L620.9 145.3L622.7 145.6L624.6 145.9L626.4 146.1L628.2 146.4L630.1 146.7L631.9 146.9L633.7 147.2L635.5 147.5L637.4 147.7L639.2 148.0L641.0 148.3L642.8 148.6L644.6 148.8L646.5 149.1L648.3 149.4L650.1 149.7L651.8 150.0L653.6 150.4L655.4 150.7L657.2 151.1L658.9 151.6L660.7 152.0L662.4 152.5L664.2 153.0L665.9 153.6L667.6 154.1L669.3 154.8L670.9 155.6L670.9 167.1L669.3 166.3L667.6 165.6L665.9 164.8L664.2 164.1L662.4 163.4L660.7 162.7L658.9 162.0L657.2 161.4L655.4 160.8L653.6 160.2L651.8 159.6L650.1 159.0L648.3 158.5L646.5 157.9L644.6 157.4L642.8 156.9L641.0 156.4L639.2 156.0L637.4 155.5L635.5 155.1L633.7 154.7L631.9 154.3L630.1 153.9L628.2 153.5L626.4 153.0L624.6 152.6L622.7 152.2L620.9 151.8L619.1 151.3L617.3 150.9L615.4 150.5L613.6 150.0L611.8 149.6L610.0 149.1L608.2 148.6L606.4 148.1L604.6 147.6L602.9 147.0L601.1 146.5L599.3 145.9L597.6 145.3L595.8 144.7L594.0 144.1L592.3 143.5L590.5 142.8L588.8 142.2L587.1 141.5L585.3 140.8L583.6 140.1L581.9 139.4L580.2 138.7L578.4 138.0L576.7 137.2L575.0 136.5L573.3 135.7L571.6 134.9L569.9 134.2L568.2 133.4L566.5 132.7L564.8 131.9L563.1 131.1L561.4 130.3L559.8 129.5L558.1 128.7L556.4 127.9L554.7 127.1L553.0 126.3L551.4 125.5L549.7 124.6L548.0 123.8L546.4 123.0L544.7 122.2L543.0 121.3L541.4 120.5L539.7 119.6L538.0 118.8L536.4 118.0L534.7 117.1L533.1 116.2L531.4 115.4L529.8 114.5L528.1 113.6L526.5 112.8L524.8 111.9L523.2 111.0L521.6 110.1L520.0 109.2L518.3 108.2L516.7 107.3L515.1 106.4L513.5 105.4L511.9 104.4L510.4 103.4L508.9 102.4L507.3 101.3L505.9 100.2L504.4 99.0L503.0 97.8L501.7 96.6L500.3 95.3L499.0 94.0L497.7 92.7L496.4 91.4L495.2 90.0L493.9 88.7L492.7 87.3L491.6 85.8L490.4 84.4L489.2 83.0L488.1 81.5L486.9 80.0L485.8 78.5Z" fill="#00ff00" fill-opacity="0.2" stroke="#000" stroke-opacity="0.9" stroke-width="0.65" stroke-linejoin="round"/>
</g>
<rect x="433.2" y="5.6" width="284.7" height="177.70000000000002" fill="none" stroke="#262626" stroke-width="1"/>
<path d="M433.2 183.3v-3.0M433.2 5.6v3.0M504.4 183.3v-3.0M504.4 5.6v3.0M575.6 183.3v-3.0M575.6 5.6v3.0M646.7 183.3v-3.0M646.7 5.6v3.0M717.9 183.3v-3.0M717.9 5.6v3.0M433.2 170.0h3.0M717.9 170.0h-3.0M433.2 142.6h3.0M717.9 142.6h-3.0M433.2 115.2h3.0M717.9 115.2h-3.0M433.2 87.8h3.0M717.9 87.8h-3.0M433.2 60.4h3.0M717.9 60.4h-3.0M433.2 33.0h3.0M717.9 33.0h-3.0M433.2 5.6h3.0M717.9 5.6h-3.0" stroke="#262626" stroke-width="0.9" fill="none"/>
<text x="430.8" y="173.2" font-size="12.5" text-anchor="end" >-20</text>
<text x="430.8" y="145.8" font-size="12.5" text-anchor="end" >0</text>
<text x="430.8" y="118.4" font-size="12.5" text-anchor="end" >20</text>
<text x="430.8" y="91.0" font-size="12.5" text-anchor="end" >40</text>
<text x="430.8" y="63.6" font-size="12.5" text-anchor="end" >60</text>
<text x="430.8" y="36.2" font-size="12.5" text-anchor="end" >80</text>
<text x="430.8" y="8.8" font-size="12.5" text-anchor="end" >100</text>
<text x="433.2" y="197.0" font-size="12.5" text-anchor="middle" >0</text>
<text x="504.4" y="197.0" font-size="12.5" text-anchor="middle" >0.2</text>
<text x="575.6" y="197.0" font-size="12.5" text-anchor="middle" >0.4</text>
<text x="646.7" y="197.0" font-size="12.5" text-anchor="middle" >0.6</text>
<text x="717.9" y="197.0" font-size="12.5" text-anchor="middle" >0.8</text>
<text x="575.6" y="214.2" font-size="16" text-anchor="middle" word-spacing="2" lengthAdjust="spacingAndGlyphs" textLength="52.5">SoC / -</text>
<text x="392.0" y="16.6" font-size="16" text-anchor="start" lengthAdjust="spacingAndGlyphs" textLength="12.6">c)</text>
<g transform="translate(404.3,137.9) rotate(-90)" font-size="15"><text x="-0.6" y="0" font-size="16.5" font-style="italic">ϕ</text><text x="8.8" y="3.6" font-size="10.5" font-style="italic">s</text><text x="19.3" y="0" font-size="14.5">-</text><text x="30.2" y="0" font-size="16.5" font-style="italic">ϕ</text><text x="39.8" y="3.6" font-size="10.5" font-style="italic">l</text><text x="49.4" y="4.1" font-size="22">/</text><text x="63.2" y="0" lengthAdjust="spacingAndGlyphs" textLength="23.2">mV</text></g>
<rect x="600.5" y="18.3" width="106.1" height="73.6" fill="#fff" stroke="#262626" stroke-width="0.9"/>
<rect x="605.2" y="23.2" width="47.2" height="12.3" fill="#00ff00" fill-opacity="0.8" stroke="#000" stroke-opacity="0.45" stroke-width="0.6"/>
<text x="656.1" y="32.9" font-size="13.5" text-anchor="start" lengthAdjust="spacingAndGlyphs" textLength="42.5">21700S</text>
<rect x="605.2" y="40.8" width="47.2" height="11.9" fill="#00ff00" fill-opacity="0.2" stroke="#000" stroke-opacity="0.45" stroke-width="0.6"/>
<text x="656.1" y="50.2" font-size="13.5" text-anchor="start" lengthAdjust="spacingAndGlyphs" textLength="44.8">21700T</text>
<rect x="605.2" y="58" width="47.2" height="12.3" fill="#ff0000" fill-opacity="0.8" stroke="#000" stroke-opacity="0.45" stroke-width="0.6"/>
<text x="656.1" y="67.4" font-size="13.5" text-anchor="start" lengthAdjust="spacingAndGlyphs" textLength="35.4">4680S</text>
<rect x="605.2" y="75" width="47.2" height="12.4" fill="#ff0000" fill-opacity="0.2" stroke="#000" stroke-opacity="0.45" stroke-width="0.6"/>
<text x="656.1" y="84.8" font-size="13.5" text-anchor="start" lengthAdjust="spacingAndGlyphs" textLength="36.4">4680T</text>
<g><rect x="28.10" y="225.70" width="608.90" height="63.40" fill="url(#d0)"/><rect x="28.10" y="225.70" width="608.90" height="63.40" fill="url(#d1)" mask="url(#dm1)"/><rect x="28.10" y="238.38" width="608.90" height="50.72" fill="url(#d2)" mask="url(#dm2)"/><rect x="28.10" y="251.06" width="608.90" height="38.04" fill="url(#d3)" mask="url(#dm3)"/><rect x="28.10" y="263.74" width="608.90" height="25.36" fill="url(#d4)" mask="url(#dm4)"/><rect x="28.10" y="276.42" width="608.90" height="12.68" fill="url(#d5)" mask="url(#dm5)"/><rect x="28.10" y="282.76" width="608.90" height="6.34" fill="url(#d6)" mask="url(#dm6)"/></g>
<g mask="url(#mskd)"><rect x="28.10" y="225.70" width="608.90" height="63.40" fill="url(#D0)"/><rect x="28.10" y="225.70" width="608.90" height="63.40" fill="url(#D1)" mask="url(#Dm1)"/><rect x="28.10" y="257.40" width="608.90" height="31.70" fill="url(#D2)" mask="url(#Dm2)"/></g>
<rect x="28.1" y="225.7" width="608.9" height="63.400000000000034" fill="none" stroke="#1a1a1a" stroke-width="0.8"/>
<rect x="102.6" y="222.2" width="3.8" height="3.6" fill="#d40f0f" stroke="#5a1010" stroke-width="0.6"/>
<rect x="255.1" y="222.2" width="3.8" height="3.6" fill="#d40f0f" stroke="#5a1010" stroke-width="0.6"/>
<rect x="406.7" y="222.2" width="3.8" height="3.6" fill="#d40f0f" stroke="#5a1010" stroke-width="0.6"/>
<rect x="558.5" y="222.2" width="3.8" height="3.6" fill="#d40f0f" stroke="#5a1010" stroke-width="0.6"/>
<rect x="27.8" y="289.3" width="3.8" height="3.8" fill="#d40f0f" stroke="#5a1010" stroke-width="0.6"/>
<rect x="178.2" y="289.3" width="3.8" height="3.8" fill="#d40f0f" stroke="#5a1010" stroke-width="0.6"/>
<rect x="330.3" y="289.3" width="3.8" height="3.8" fill="#d40f0f" stroke="#5a1010" stroke-width="0.6"/>
<rect x="482.8" y="289.3" width="3.8" height="3.8" fill="#d40f0f" stroke="#5a1010" stroke-width="0.6"/>
<rect x="633.1" y="289.3" width="3.8" height="3.8" fill="#d40f0f" stroke="#5a1010" stroke-width="0.6"/>
<rect x="27.6" y="220.3" width="610.8" height="74.0" fill="none" stroke="#262626" stroke-width="1"/>
<path d="M28.9 294.3v-5.0M28.9 220.3v5.2M96.2 294.3v-5.0M96.2 220.3v5.2M163.6 294.3v-5.0M163.6 220.3v5.2M230.9 294.3v-5.0M230.9 220.3v5.2M298.2 294.3v-5.0M298.2 220.3v5.2M365.5 294.3v-5.0M365.5 220.3v5.2M432.9 294.3v-5.0M432.9 220.3v5.2M500.2 294.3v-5.0M500.2 220.3v5.2M567.5 294.3v-5.0M567.5 220.3v5.2M634.8 294.3v-5.0M634.8 220.3v5.2" stroke="#262626" stroke-width="0.9" fill="none"/>
<text x="28.9" y="307.6" font-size="12.5" text-anchor="middle" >0</text>
<text x="96.2" y="307.6" font-size="12.5" text-anchor="middle" >0.5</text>
<text x="163.6" y="307.6" font-size="12.5" text-anchor="middle" >1</text>
<text x="230.9" y="307.6" font-size="12.5" text-anchor="middle" >1.5</text>
<text x="298.2" y="307.6" font-size="12.5" text-anchor="middle" >2</text>
<text x="365.5" y="307.6" font-size="12.5" text-anchor="middle" >2.5</text>
<text x="432.9" y="307.6" font-size="12.5" text-anchor="middle" >3</text>
<text x="500.2" y="307.6" font-size="12.5" text-anchor="middle" >3.5</text>
<text x="567.5" y="307.6" font-size="12.5" text-anchor="middle" >4</text>
<text x="634.8" y="307.6" font-size="12.5" text-anchor="middle" >4.5</text>
<text x="24.3" y="292.5" font-size="12.5" text-anchor="end" >0</text>
<text x="24.3" y="275.3" font-size="12.5" text-anchor="end" >2</text>
<text x="24.3" y="258.0" font-size="12.5" text-anchor="end" >4</text>
<text x="24.3" y="240.8" font-size="12.5" text-anchor="end" >6</text>
<text transform="translate(11.7,257.3) rotate(-90)" font-size="15.5" text-anchor="middle" word-spacing="2" lengthAdjust="spacingAndGlyphs" textLength="45.5">h / cm</text>
<text x="6.0" y="312.8" font-size="16" text-anchor="start" lengthAdjust="spacingAndGlyphs" textLength="13.8">d)</text>
<text x="332.3" y="326.5" font-size="16" text-anchor="middle" word-spacing="1.5" lengthAdjust="spacingAndGlyphs" textLength="42">w / m</text>
<rect x="655.2" y="219.9" width="19.199999999999932" height="74.49999999999997" fill="url(#cbd)" stroke="#262626" stroke-width="0.9"/>
<text x="680.0" y="233.0" font-size="12.5" text-anchor="start" >90</text>
<text x="680.0" y="259.7" font-size="12.5" text-anchor="start" >80</text>
<text x="680.0" y="286.7" font-size="12.5" text-anchor="start" >70</text>
<rect x="28.1" y="333.1" width="608.9" height="3.4" fill="#dadada" stroke="#1a1a1a" stroke-width="0.5"/>
<rect x="28.1" y="402.6" width="608.9" height="2.3" fill="#d2d2d2" stroke="#1a1a1a" stroke-width="0.5"/>
<rect x="28.1" y="399.9" width="608.9" height="2.7" fill="#f6c4a0" stroke="#1a1a1a" stroke-width="0.6"/>
<g><rect x="28.10" y="336.80" width="608.90" height="63.00" fill="url(#e0)"/><rect x="28.10" y="336.80" width="608.90" height="63.00" fill="url(#e1)" mask="url(#em1)"/><rect x="28.10" y="349.40" width="608.90" height="50.40" fill="url(#e2)" mask="url(#em2)"/><rect x="28.10" y="362.00" width="608.90" height="37.80" fill="url(#e3)" mask="url(#em3)"/><rect x="28.10" y="374.60" width="608.90" height="25.20" fill="url(#e4)" mask="url(#em4)"/><rect x="28.10" y="387.20" width="608.90" height="12.60" fill="url(#e5)" mask="url(#em5)"/></g>
<rect x="28.1" y="336.8" width="608.9" height="63.0" fill="none" stroke="#1a1a1a" stroke-width="0.8"/>
<rect x="27.6" y="331.8" width="610.8" height="73.39999999999998" fill="none" stroke="#262626" stroke-width="1"/>
<path d="M28.9 405.2v-5.2M28.9 331.8v4.9M96.2 405.2v-5.2M96.2 331.8v4.9M163.6 405.2v-5.2M163.6 331.8v4.9M230.9 405.2v-5.2M230.9 331.8v4.9M298.2 405.2v-5.2M298.2 331.8v4.9M365.5 405.2v-5.2M365.5 331.8v4.9M432.9 405.2v-5.2M432.9 331.8v4.9M500.2 405.2v-5.2M500.2 331.8v4.9M567.5 405.2v-5.2M567.5 331.8v4.9M634.8 405.2v-5.2M634.8 331.8v4.9" stroke="#262626" stroke-width="0.9" fill="none"/>
<text x="28.9" y="418.4" font-size="12.5" text-anchor="middle" >0</text>
<text x="96.2" y="418.4" font-size="12.5" text-anchor="middle" >0.5</text>
<text x="163.6" y="418.4" font-size="12.5" text-anchor="middle" >1</text>
<text x="230.9" y="418.4" font-size="12.5" text-anchor="middle" >1.5</text>
<text x="298.2" y="418.4" font-size="12.5" text-anchor="middle" >2</text>
<text x="365.5" y="418.4" font-size="12.5" text-anchor="middle" >2.5</text>
<text x="432.9" y="418.4" font-size="12.5" text-anchor="middle" >3</text>
<text x="500.2" y="418.4" font-size="12.5" text-anchor="middle" >3.5</text>
<text x="567.5" y="418.4" font-size="12.5" text-anchor="middle" >4</text>
<text x="634.8" y="418.4" font-size="12.5" text-anchor="middle" >4.5</text>
<text x="24.3" y="403.1" font-size="12.5" text-anchor="end" >0</text>
<text x="24.3" y="386.1" font-size="12.5" text-anchor="end" >2</text>
<text x="24.3" y="369.1" font-size="12.5" text-anchor="end" >4</text>
<text x="24.3" y="352.1" font-size="12.5" text-anchor="end" >6</text>
<text transform="translate(11.7,368.2) rotate(-90)" font-size="15.5" text-anchor="middle" word-spacing="2" lengthAdjust="spacingAndGlyphs" textLength="45.5">h / cm</text>
<text x="6.0" y="332.6" font-size="16" text-anchor="start" lengthAdjust="spacingAndGlyphs" textLength="12.6">e)</text>
<text x="332.3" y="436.5" font-size="16" text-anchor="middle" word-spacing="1.5" lengthAdjust="spacingAndGlyphs" textLength="42">w / m</text>
<rect x="655.2" y="331.8" width="19.199999999999932" height="73.0" fill="url(#cbe)" stroke="#262626" stroke-width="0.9"/>
<text x="680.0" y="343.2" font-size="12.5" text-anchor="start" >75</text>
<text x="680.0" y="363.1" font-size="12.5" text-anchor="start" >70</text>
<text x="680.0" y="383.6" font-size="12.5" text-anchor="start" >65</text>
<text x="680.0" y="404.0" font-size="12.5" text-anchor="start" >60</text>
<text transform="translate(715.0,307.5) rotate(-90)" font-size="14" text-anchor="middle" word-spacing="1" lengthAdjust="spacingAndGlyphs" textLength="143">Temperature at EoC / °C</text></svg></body></html>
